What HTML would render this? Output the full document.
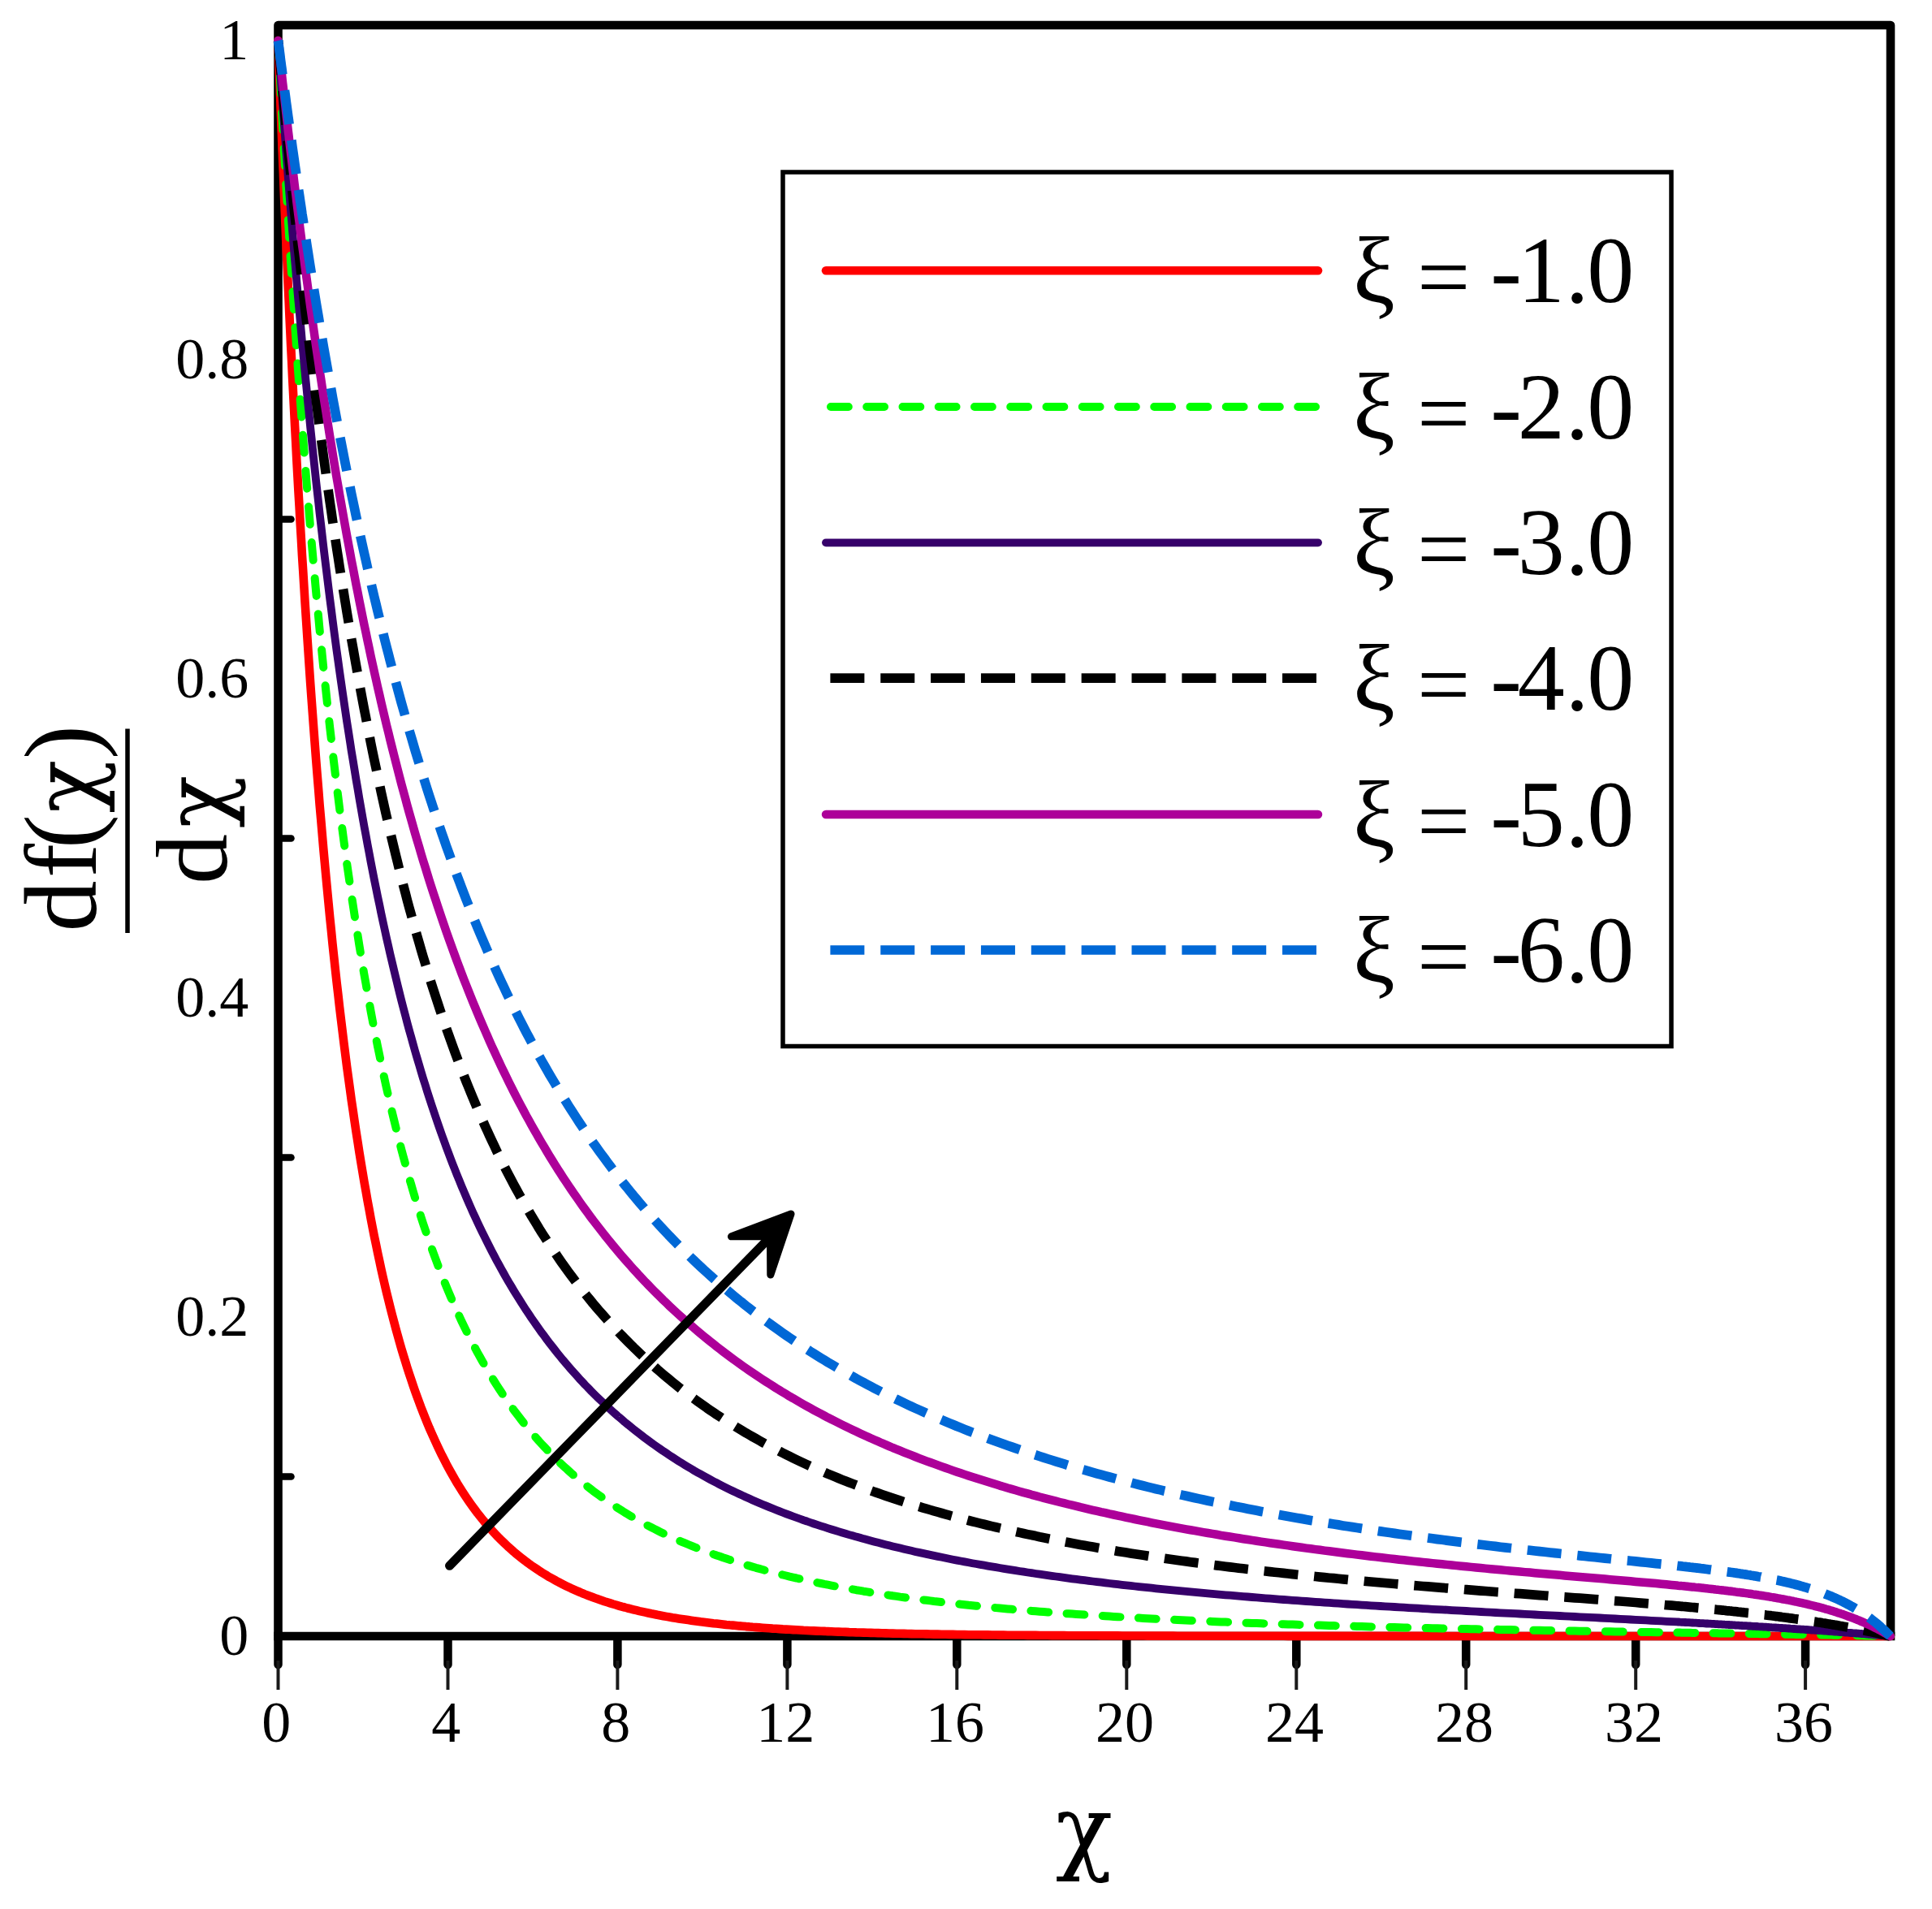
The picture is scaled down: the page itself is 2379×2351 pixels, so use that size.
<!DOCTYPE html>
<html lang="en"><head><meta charset="utf-8"><title>df/dχ profiles</title>
<style>html,body{margin:0;padding:0;background:#fff}body{width:2379px;height:2351px;overflow:hidden}svg{display:block}text{font-family:"Liberation Serif","DejaVu Serif",serif;fill:#000}text.dj,tspan.dj{font-family:"DejaVu Serif","Liberation Serif",serif}</style></head><body>
<svg width="2379" height="2351" viewBox="0 0 2379 2351">
<rect width="2379" height="2351" fill="#fff"/>
<g stroke="#000" fill="none">
<line x1="342.5" y1="2016" x2="342.5" y2="2050" stroke-width="10.5" stroke-linecap="round"/>
<line x1="342.5" y1="2045" x2="342.5" y2="2081" stroke="#1a1a1a" stroke-width="4"/>
<line x1="551.5" y1="2016" x2="551.5" y2="2050" stroke-width="10.5" stroke-linecap="round"/>
<line x1="551.5" y1="2045" x2="551.5" y2="2081" stroke="#1a1a1a" stroke-width="4"/>
<line x1="760.4" y1="2016" x2="760.4" y2="2050" stroke-width="10.5" stroke-linecap="round"/>
<line x1="760.4" y1="2045" x2="760.4" y2="2081" stroke="#1a1a1a" stroke-width="4"/>
<line x1="969.4" y1="2016" x2="969.4" y2="2050" stroke-width="10.5" stroke-linecap="round"/>
<line x1="969.4" y1="2045" x2="969.4" y2="2081" stroke="#1a1a1a" stroke-width="4"/>
<line x1="1178.3" y1="2016" x2="1178.3" y2="2050" stroke-width="10.5" stroke-linecap="round"/>
<line x1="1178.3" y1="2045" x2="1178.3" y2="2081" stroke="#1a1a1a" stroke-width="4"/>
<line x1="1387.3" y1="2016" x2="1387.3" y2="2050" stroke-width="10.5" stroke-linecap="round"/>
<line x1="1387.3" y1="2045" x2="1387.3" y2="2081" stroke="#1a1a1a" stroke-width="4"/>
<line x1="1596.3" y1="2016" x2="1596.3" y2="2050" stroke-width="10.5" stroke-linecap="round"/>
<line x1="1596.3" y1="2045" x2="1596.3" y2="2081" stroke="#1a1a1a" stroke-width="4"/>
<line x1="1805.2" y1="2016" x2="1805.2" y2="2050" stroke-width="10.5" stroke-linecap="round"/>
<line x1="1805.2" y1="2045" x2="1805.2" y2="2081" stroke="#1a1a1a" stroke-width="4"/>
<line x1="2014.2" y1="2016" x2="2014.2" y2="2050" stroke-width="10.5" stroke-linecap="round"/>
<line x1="2014.2" y1="2045" x2="2014.2" y2="2081" stroke="#1a1a1a" stroke-width="4"/>
<line x1="2223.1" y1="2016" x2="2223.1" y2="2050" stroke-width="10.5" stroke-linecap="round"/>
<line x1="2223.1" y1="2045" x2="2223.1" y2="2081" stroke="#1a1a1a" stroke-width="4"/>
<line x1="343" y1="1818.5" x2="358.5" y2="1818.5" stroke-width="8.5" stroke-linecap="round"/>
<line x1="343" y1="1425.5" x2="358.5" y2="1425.5" stroke-width="8.5" stroke-linecap="round"/>
<line x1="343" y1="1032.5" x2="358.5" y2="1032.5" stroke-width="8.5" stroke-linecap="round"/>
<line x1="343" y1="639.5" x2="358.5" y2="639.5" stroke-width="8.5" stroke-linecap="round"/>
<line x1="343" y1="246.5" x2="358.5" y2="246.5" stroke-width="8.5" stroke-linecap="round"/>
</g>
<path d="M342.5,2015 L342.5,31 L2328,31 L2328,2015" fill="none" stroke="#000" stroke-width="10.6" stroke-linejoin="round"/>
<line x1="337.2" y1="2015" x2="2333.3" y2="2015" stroke="#000" stroke-width="10.4"/>
<g fill="none" stroke-linejoin="round">
<path d="M342.5,50.0 342.6,51.4 342.7,54.6 342.8,59.1 343.0,64.8 343.3,71.6 343.6,79.3 343.9,88.0 344.3,97.5 344.7,107.9 345.1,119.0 345.5,130.8 346.0,143.2 346.5,156.3 347.1,170.1 347.6,184.3 348.2,199.1 348.9,214.4 349.5,230.2 350.2,246.4 350.9,263.0 351.6,280.0 352.3,297.4 353.1,315.1 353.9,333.1 354.7,351.3 355.6,369.8 356.4,388.6 357.3,407.6 358.2,426.7 359.2,446.0 360.1,465.5 361.1,485.1 362.1,504.8 363.1,524.6 364.2,544.5 365.2,564.4 366.3,584.4 367.4,604.4 368.6,624.4 369.7,644.4 370.9,664.4 372.0,684.4 373.3,704.3 374.5,724.2 375.7,744.0 377.0,763.7 378.3,783.3 379.6,802.9 380.9,822.3 382.2,841.6 383.6,860.8 385.0,879.9 386.4,898.8 387.8,917.6 389.2,936.2 390.7,954.7 392.2,973.0 393.6,991.1 395.2,1009.1 396.7,1026.9 398.2,1044.5 399.8,1061.9 401.4,1079.2 403.0,1096.2 404.6,1113.0 406.2,1129.7 407.9,1146.1 409.5,1162.4 411.2,1178.4 412.9,1194.2 414.6,1209.8 416.4,1225.2 418.1,1240.4 419.9,1255.4 421.7,1270.2 423.5,1284.8 425.3,1299.1 427.1,1313.3 429.0,1327.2 430.9,1340.9 432.7,1354.5 434.7,1367.8 436.6,1380.9 438.5,1393.8 440.5,1406.4 442.4,1418.9 444.4,1431.2 446.4,1443.2 448.4,1455.1 450.5,1466.8 452.5,1478.3 454.6,1489.5 456.6,1500.6 458.7,1511.5 460.8,1522.2 463.0,1532.7 465.1,1543.0 467.3,1553.1 469.4,1563.1 471.6,1572.8 473.8,1582.4 476.0,1591.8 478.3,1601.1 480.5,1610.1 482.8,1619.0 485.1,1627.7 487.4,1636.3 489.7,1644.7 492.0,1652.9 494.3,1661.0 496.7,1668.9 499.1,1676.6 501.4,1684.2 503.8,1691.7 506.3,1699.0 508.7,1706.2 511.1,1713.2 513.6,1720.1 516.1,1726.8 518.5,1733.4 521.0,1739.8 523.6,1746.2 526.1,1752.4 528.6,1758.5 531.2,1764.4 533.8,1770.2 536.4,1775.9 539.0,1781.5 541.6,1787.0 544.2,1792.3 546.9,1797.5 549.5,1802.7 552.2,1807.7 554.9,1812.6 557.6,1817.4 560.3,1822.1 563.0,1826.7 565.8,1831.2 568.5,1835.6 571.3,1839.9 574.1,1844.1 576.9,1848.2 579.7,1852.2 582.5,1856.1 585.4,1860.0 588.2,1863.8 591.1,1867.4 594.0,1871.0 596.9,1874.5 599.8,1878.0 602.7,1881.3 605.6,1884.6 608.6,1887.8 611.5,1891.0 614.5,1894.0 617.5,1897.0 620.5,1899.9 623.5,1902.8 626.5,1905.6 629.6,1908.3 632.6,1911.0 635.7,1913.6 638.8,1916.1 641.9,1918.6 645.0,1921.0 648.1,1923.4 651.3,1925.7 654.4,1928.0 657.6,1930.2 660.8,1932.3 663.9,1934.4 667.1,1936.5 670.4,1938.5 673.6,1940.4 676.8,1942.4 680.1,1944.2 683.4,1946.0 686.6,1947.8 689.9,1949.5 693.2,1951.2 696.6,1952.9 699.9,1954.5 703.2,1956.1 706.6,1957.6 710.0,1959.1 713.3,1960.5 716.7,1962.0 720.1,1963.4 723.6,1964.7 727.0,1966.0 730.4,1967.3 733.9,1968.6 737.4,1969.8 740.9,1971.0 744.4,1972.2 747.9,1973.3 751.4,1974.4 754.9,1975.5 758.5,1976.5 762.0,1977.6 765.6,1978.6 769.2,1979.5 772.8,1980.5 776.4,1981.4 780.0,1982.3 783.7,1983.2 787.3,1984.1 791.0,1984.9 794.6,1985.7 798.3,1986.5 802.0,1987.3 805.7,1988.0 809.4,1988.8 813.2,1989.5 816.9,1990.2 820.7,1990.9 824.4,1991.5 828.2,1992.2 832.0,1992.8 835.8,1993.4 839.6,1994.0 843.5,1994.6 847.3,1995.1 851.2,1995.7 855.0,1996.2 858.9,1996.7 862.8,1997.3 866.7,1997.7 870.6,1998.2 874.6,1998.7 878.5,1999.2 882.4,1999.6 886.4,2000.0 890.4,2000.4 894.4,2000.9 898.4,2001.3 902.4,2001.6 906.4,2002.0 910.4,2002.4 914.5,2002.7 918.5,2003.1 922.6,2003.4 926.7,2003.8 930.8,2004.1 934.9,2004.4 939.0,2004.7 943.1,2005.0 947.3,2005.3 951.4,2005.6 955.6,2005.8 959.8,2006.1 963.9,2006.4 968.1,2006.6 972.3,2006.8 976.6,2007.1 980.8,2007.3 985.0,2007.5 989.3,2007.8 993.6,2008.0 997.8,2008.2 1002.1,2008.4 1006.4,2008.6 1010.8,2008.8 1015.1,2008.9 1019.4,2009.1 1023.8,2009.3 1028.1,2009.5 1032.5,2009.6 1036.9,2009.8 1041.3,2009.9 1045.7,2010.1 1050.1,2010.2 1054.5,2010.4 1059.0,2010.5 1063.4,2010.6 1067.9,2010.8 1072.3,2010.9 1076.8,2011.0 1081.3,2011.1 1085.8,2011.3 1090.4,2011.4 1094.9,2011.5 1099.4,2011.6 1104.0,2011.7 1108.5,2011.8 1113.1,2011.9 1117.7,2012.0 1122.3,2012.1 1126.9,2012.2 1131.5,2012.2 1136.2,2012.3 1140.8,2012.4 1145.5,2012.5 1150.1,2012.6 1154.8,2012.6 1159.5,2012.7 1164.2,2012.8 1168.9,2012.9 1173.6,2012.9 1178.3,2013.0 1183.1,2013.0 1187.8,2013.1 1192.6,2013.2 1197.4,2013.2 1202.2,2013.3 1207.0,2013.3 1211.8,2013.4 1216.6,2013.4 1221.4,2013.5 1226.3,2013.5 1231.1,2013.6 1236.0,2013.6 1240.8,2013.7 1245.7,2013.7 1250.6,2013.7 1255.5,2013.8 1260.4,2013.8 1265.4,2013.9 1270.3,2013.9 1275.3,2013.9 1280.2,2014.0 1285.2,2014.0 1290.2,2014.0 1295.2,2014.1 1300.2,2014.1 1305.2,2014.1 1310.2,2014.1 1315.3,2014.2 1320.3,2014.2 1325.4,2014.2 1330.4,2014.3 1335.5,2014.3 1340.6,2014.3 1345.7,2014.3 1350.8,2014.3 1355.9,2014.4 1361.1,2014.4 1366.2,2014.4 1371.4,2014.4 1376.5,2014.4 1381.7,2014.5 1386.9,2014.5 1392.1,2014.5 1397.3,2014.5 1402.5,2014.5 1407.7,2014.5 1413.0,2014.6 1418.2,2014.6 1423.5,2014.6 1428.8,2014.6 1434.0,2014.6 1439.3,2014.6 1444.6,2014.6 1449.9,2014.7 1455.3,2014.7 1460.6,2014.7 1465.9,2014.7 1471.3,2014.7 1476.7,2014.7 1482.0,2014.7 1487.4,2014.7 1492.8,2014.7 1498.2,2014.7 1503.6,2014.8 1509.1,2014.8 1514.5,2014.8 1520.0,2014.8 1525.4,2014.8 1530.9,2014.8 1536.4,2014.8 1541.9,2014.8 1547.4,2014.8 1552.9,2014.8 1558.4,2014.8 1563.9,2014.8 1569.5,2014.8 1575.0,2014.8 1580.6,2014.8 1586.2,2014.9 1591.7,2014.9 1597.3,2014.9 1602.9,2014.9 1608.6,2014.9 1614.2,2014.9 1619.8,2014.9 1625.5,2014.9 1631.1,2014.9 1636.8,2014.9 1642.5,2014.9 1648.1,2014.9 1653.8,2014.9 1659.5,2014.9 1665.3,2014.9 1671.0,2014.9 1676.7,2014.9 1682.5,2014.9 1688.2,2014.9 1694.0,2014.9 1699.8,2014.9 1705.6,2014.9 1711.4,2014.9 1717.2,2014.9 1723.0,2014.9 1728.8,2014.9 1734.7,2014.9 1740.5,2014.9 1746.4,2014.9 1752.2,2014.9 1758.1,2014.9 1764.0,2015.0 1769.9,2015.0 1775.8,2015.0 1781.7,2015.0 1787.7,2015.0 1793.6,2015.0 1799.6,2015.0 1805.5,2015.0 1811.5,2015.0 1817.5,2015.0 1823.4,2015.0 1829.4,2015.0 1835.5,2015.0 1841.5,2015.0 1847.5,2015.0 1853.5,2015.0 1859.6,2015.0 1865.7,2015.0 1871.7,2015.0 1877.8,2015.0 1883.9,2015.0 1890.0,2015.0 1896.1,2015.0 1902.2,2015.0 1908.3,2015.0 1914.5,2015.0 1920.6,2015.0 1926.8,2015.0 1933.0,2015.0 1939.1,2015.0 1945.3,2015.0 1951.5,2015.0 1957.7,2015.0 1963.9,2015.0 1970.2,2015.0 1976.4,2015.0 1982.7,2015.0 1988.9,2015.0 1995.2,2015.0 2001.5,2015.0 2007.7,2015.0 2014.0,2015.0 2020.3,2015.0 2026.7,2015.0 2033.0,2015.0 2039.3,2015.0 2045.7,2015.0 2052.0,2015.0 2058.4,2015.0 2064.8,2015.0 2066.4,2015.0 2068.6,2015.0 2070.8,2015.0 2071.1,2015.0 2073.0,2015.0 2075.2,2015.0 2077.4,2015.0 2077.5,2015.0 2079.6,2015.0 2081.8,2015.0 2083.9,2015.0 2084.0,2015.0 2086.2,2015.0 2088.4,2015.0 2090.3,2015.0 2090.6,2015.0 2092.8,2015.0 2095.0,2015.0 2096.8,2015.0 2097.1,2015.0 2099.3,2015.0 2101.5,2015.0 2103.2,2015.0 2103.7,2015.0 2105.9,2015.0 2108.1,2015.0 2109.6,2015.0 2110.3,2015.0 2112.5,2015.0 2114.7,2015.0 2116.1,2015.0 2116.9,2015.0 2119.1,2015.0 2121.3,2015.0 2122.6,2015.0 2123.5,2015.0 2125.7,2015.0 2127.9,2015.0 2129.0,2015.0 2130.1,2015.0 2132.3,2015.0 2134.5,2015.0 2135.5,2015.0 2136.7,2015.0 2138.9,2015.0 2141.0,2015.0 2142.0,2015.0 2143.2,2015.0 2145.4,2015.0 2147.6,2015.0 2148.5,2015.0 2149.8,2015.0 2152.0,2015.0 2154.2,2015.0 2155.0,2015.0 2156.4,2015.0 2158.6,2015.0 2160.8,2015.0 2161.5,2015.0 2163.0,2015.0 2165.2,2015.0 2167.4,2015.0 2168.1,2015.0 2169.6,2015.0 2171.8,2015.0 2174.0,2015.0 2174.6,2015.0 2176.2,2015.0 2178.4,2015.0 2180.6,2015.0 2181.1,2015.0 2182.8,2015.0 2184.9,2015.0 2187.1,2015.0 2187.7,2015.0 2189.3,2015.0 2191.5,2015.0 2193.7,2015.0 2194.3,2015.0 2195.9,2015.0 2198.1,2015.0 2200.3,2015.0 2200.8,2015.0 2202.5,2015.0 2204.7,2015.0 2206.9,2015.0 2207.4,2015.0 2209.1,2015.0 2211.3,2015.0 2213.5,2015.0 2214.0,2015.0 2215.7,2015.0 2217.9,2015.0 2220.1,2015.0 2220.6,2015.0 2222.3,2015.0 2224.5,2015.0 2226.7,2015.0 2227.2,2015.0 2228.8,2015.0 2231.0,2015.0 2233.2,2015.0 2233.9,2015.0 2235.4,2015.0 2237.6,2015.0 2239.8,2015.0 2240.5,2015.0 2242.0,2015.0 2244.2,2015.0 2246.4,2015.0 2247.1,2015.0 2248.6,2015.0 2250.8,2015.0 2253.0,2015.0 2253.8,2015.0 2255.2,2015.0 2257.4,2015.0 2259.6,2015.0 2260.5,2015.0 2261.8,2015.0 2264.0,2015.0 2266.2,2015.0 2267.1,2015.0 2268.4,2015.0 2270.6,2015.0 2272.7,2015.0 2273.8,2015.0 2274.9,2015.0 2277.1,2015.0 2279.3,2015.0 2280.5,2015.0 2281.5,2015.0 2283.7,2015.0 2285.9,2015.0 2287.2,2015.0 2288.1,2015.0 2290.3,2015.0 2292.5,2015.0 2293.9,2015.0 2294.7,2015.0 2296.9,2015.0 2299.1,2015.0 2300.6,2015.0 2301.3,2015.0 2303.5,2015.0 2305.7,2015.0 2307.4,2015.0 2307.9,2015.0 2310.1,2015.0 2312.3,2015.0 2314.1,2015.0 2314.5,2015.0 2316.6,2015.0 2318.8,2015.0 2320.9,2015.0 2321.0,2015.0 2323.2,2015.0 2325.4,2015.0 2327.6,2015.0" stroke="#ff0000" stroke-width="10.6" stroke-linecap="round"/>
<path d="M342.5,50.0 342.6,51.0 342.7,53.2 342.8,56.4 343.0,60.5 343.3,65.3 343.6,70.8 343.9,76.9 344.3,83.7 344.7,91.1 345.1,99.0 345.5,107.5 346.0,116.4 346.5,125.8 347.1,135.7 347.6,146.0 348.2,156.7 348.9,167.8 349.5,179.3 350.2,191.1 350.9,203.3 351.6,215.7 352.3,228.5 353.1,241.5 353.9,254.9 354.7,268.4 355.6,282.2 356.4,296.2 357.3,310.5 358.2,324.9 359.2,339.5 360.1,354.2 361.1,369.1 362.1,384.2 363.1,399.4 364.2,414.7 365.2,430.1 366.3,445.6 367.4,461.1 368.6,476.8 369.7,492.5 370.9,508.2 372.0,524.0 373.3,539.9 374.5,555.7 375.7,571.6 377.0,587.5 378.3,603.3 379.6,619.2 380.9,635.0 382.2,650.9 383.6,666.7 385.0,682.4 386.4,698.1 387.8,713.8 389.2,729.4 390.7,744.9 392.2,760.4 393.6,775.8 395.2,791.1 396.7,806.4 398.2,821.5 399.8,836.6 401.4,851.6 403.0,866.5 404.6,881.3 406.2,895.9 407.9,910.5 409.5,925.0 411.2,939.3 412.9,953.6 414.6,967.7 416.4,981.7 418.1,995.5 419.9,1009.3 421.7,1022.9 423.5,1036.4 425.3,1049.8 427.1,1063.0 429.0,1076.1 430.9,1089.1 432.7,1101.9 434.7,1114.7 436.6,1127.2 438.5,1139.7 440.5,1152.0 442.4,1164.1 444.4,1176.2 446.4,1188.1 448.4,1199.8 450.5,1211.4 452.5,1222.9 454.6,1234.3 456.6,1245.5 458.7,1256.6 460.8,1267.5 463.0,1278.3 465.1,1289.0 467.3,1299.5 469.4,1309.9 471.6,1320.2 473.8,1330.3 476.0,1340.3 478.3,1350.2 480.5,1359.9 482.8,1369.6 485.1,1379.0 487.4,1388.4 489.7,1397.6 492.0,1406.7 494.3,1415.7 496.7,1424.6 499.1,1433.3 501.4,1442.0 503.8,1450.5 506.3,1458.8 508.7,1467.1 511.1,1475.2 513.6,1483.3 516.1,1491.2 518.5,1499.0 521.0,1506.7 523.6,1514.3 526.1,1521.7 528.6,1529.1 531.2,1536.3 533.8,1543.5 536.4,1550.5 539.0,1557.5 541.6,1564.3 544.2,1571.0 546.9,1577.7 549.5,1584.2 552.2,1590.7 554.9,1597.0 557.6,1603.3 560.3,1609.4 563.0,1615.5 565.8,1621.5 568.5,1627.4 571.3,1633.2 574.1,1638.9 576.9,1644.5 579.7,1650.0 582.5,1655.5 585.4,1660.8 588.2,1666.1 591.1,1671.3 594.0,1676.5 596.9,1681.5 599.8,1686.5 602.7,1691.4 605.6,1696.2 608.6,1701.0 611.5,1705.6 614.5,1710.2 617.5,1714.8 620.5,1719.2 623.5,1723.6 626.5,1728.0 629.6,1732.2 632.6,1736.4 635.7,1740.5 638.8,1744.6 641.9,1748.6 645.0,1752.6 648.1,1756.4 651.3,1760.3 654.4,1764.0 657.6,1767.7 660.8,1771.4 663.9,1775.0 667.1,1778.5 670.4,1782.0 673.6,1785.4 676.8,1788.8 680.1,1792.1 683.4,1795.4 686.6,1798.6 689.9,1801.8 693.2,1804.9 696.6,1807.9 699.9,1811.0 703.2,1814.0 706.6,1816.9 710.0,1819.8 713.3,1822.6 716.7,1825.4 720.1,1828.2 723.6,1830.9 727.0,1833.5 730.4,1836.2 733.9,1838.8 737.4,1841.3 740.9,1843.8 744.4,1846.3 747.9,1848.7 751.4,1851.1 754.9,1853.5 758.5,1855.8 762.0,1858.1 765.6,1860.3 769.2,1862.6 772.8,1864.7 776.4,1866.9 780.0,1869.0 783.7,1871.1 787.3,1873.1 791.0,1875.2 794.6,1877.2 798.3,1879.1 802.0,1881.0 805.7,1882.9 809.4,1884.8 813.2,1886.7 816.9,1888.5 820.7,1890.3 824.4,1892.0 828.2,1893.8 832.0,1895.5 835.8,1897.2 839.6,1898.8 843.5,1900.4 847.3,1902.0 851.2,1903.6 855.0,1905.2 858.9,1906.7 862.8,1908.2 866.7,1909.7 870.6,1911.2 874.6,1912.6 878.5,1914.1 882.4,1915.5 886.4,1916.8 890.4,1918.2 894.4,1919.5 898.4,1920.9 902.4,1922.2 906.4,1923.5 910.4,1924.7 914.5,1926.0 918.5,1927.2 922.6,1928.4 926.7,1929.6 930.8,1930.8 934.9,1931.9 939.0,1933.0 943.1,1934.2 947.3,1935.3 951.4,1936.4 955.6,1937.4 959.8,1938.5 963.9,1939.5 968.1,1940.5 972.3,1941.6 976.6,1942.6 980.8,1943.5 985.0,1944.5 989.3,1945.5 993.6,1946.4 997.8,1947.3 1002.1,1948.2 1006.4,1949.1 1010.8,1950.0 1015.1,1950.9 1019.4,1951.7 1023.8,1952.6 1028.1,1953.4 1032.5,1954.3 1036.9,1955.1 1041.3,1955.9 1045.7,1956.6 1050.1,1957.4 1054.5,1958.2 1059.0,1958.9 1063.4,1959.7 1067.9,1960.4 1072.3,1961.1 1076.8,1961.9 1081.3,1962.6 1085.8,1963.3 1090.4,1963.9 1094.9,1964.6 1099.4,1965.3 1104.0,1965.9 1108.5,1966.6 1113.1,1967.2 1117.7,1967.8 1122.3,1968.5 1126.9,1969.1 1131.5,1969.7 1136.2,1970.3 1140.8,1970.8 1145.5,1971.4 1150.1,1972.0 1154.8,1972.5 1159.5,1973.1 1164.2,1973.6 1168.9,1974.2 1173.6,1974.7 1178.3,1975.2 1183.1,1975.7 1187.8,1976.2 1192.6,1976.8 1197.4,1977.2 1202.2,1977.7 1207.0,1978.2 1211.8,1978.7 1216.6,1979.2 1221.4,1979.6 1226.3,1980.1 1231.1,1980.5 1236.0,1981.0 1240.8,1981.4 1245.7,1981.8 1250.6,1982.2 1255.5,1982.7 1260.4,1983.1 1265.4,1983.5 1270.3,1983.9 1275.3,1984.3 1280.2,1984.7 1285.2,1985.1 1290.2,1985.4 1295.2,1985.8 1300.2,1986.2 1305.2,1986.6 1310.2,1986.9 1315.3,1987.3 1320.3,1987.6 1325.4,1988.0 1330.4,1988.3 1335.5,1988.6 1340.6,1989.0 1345.7,1989.3 1350.8,1989.6 1355.9,1989.9 1361.1,1990.3 1366.2,1990.6 1371.4,1990.9 1376.5,1991.2 1381.7,1991.5 1386.9,1991.8 1392.1,1992.1 1397.3,1992.4 1402.5,1992.6 1407.7,1992.9 1413.0,1993.2 1418.2,1993.5 1423.5,1993.7 1428.8,1994.0 1434.0,1994.3 1439.3,1994.5 1444.6,1994.8 1449.9,1995.0 1455.3,1995.3 1460.6,1995.5 1465.9,1995.8 1471.3,1996.0 1476.7,1996.2 1482.0,1996.5 1487.4,1996.7 1492.8,1996.9 1498.2,1997.2 1503.6,1997.4 1509.1,1997.6 1514.5,1997.8 1520.0,1998.0 1525.4,1998.3 1530.9,1998.5 1536.4,1998.7 1541.9,1998.9 1547.4,1999.1 1552.9,1999.3 1558.4,1999.5 1563.9,1999.7 1569.5,1999.9 1575.0,2000.0 1580.6,2000.2 1586.2,2000.4 1591.7,2000.6 1597.3,2000.8 1602.9,2001.0 1608.6,2001.1 1614.2,2001.3 1619.8,2001.5 1625.5,2001.6 1631.1,2001.8 1636.8,2002.0 1642.5,2002.1 1648.1,2002.3 1653.8,2002.5 1659.5,2002.6 1665.3,2002.8 1671.0,2002.9 1676.7,2003.1 1682.5,2003.2 1688.2,2003.4 1694.0,2003.5 1699.8,2003.7 1705.6,2003.8 1711.4,2004.0 1717.2,2004.1 1723.0,2004.3 1728.8,2004.4 1734.7,2004.5 1740.5,2004.7 1746.4,2004.8 1752.2,2004.9 1758.1,2005.1 1764.0,2005.2 1769.9,2005.3 1775.8,2005.5 1781.7,2005.6 1787.7,2005.7 1793.6,2005.8 1799.6,2006.0 1805.5,2006.1 1811.5,2006.2 1817.5,2006.3 1823.4,2006.5 1829.4,2006.6 1835.5,2006.7 1841.5,2006.8 1847.5,2006.9 1853.5,2007.0 1859.6,2007.1 1865.7,2007.3 1871.7,2007.4 1877.8,2007.5 1883.9,2007.6 1890.0,2007.7 1896.1,2007.8 1902.2,2007.9 1908.3,2008.0 1914.5,2008.1 1920.6,2008.2 1926.8,2008.3 1933.0,2008.5 1939.1,2008.6 1945.3,2008.7 1951.5,2008.8 1957.7,2008.9 1963.9,2009.0 1970.2,2009.1 1976.4,2009.2 1982.7,2009.3 1988.9,2009.4 1995.2,2009.5 2001.5,2009.6 2007.7,2009.7 2014.0,2009.8 2020.3,2009.9 2026.7,2010.0 2033.0,2010.1 2039.3,2010.2 2045.7,2010.3 2052.0,2010.4 2058.4,2010.5 2064.8,2010.6 2066.4,2010.6 2068.6,2010.6 2070.8,2010.7 2071.1,2010.7 2073.0,2010.7 2075.2,2010.7 2077.4,2010.8 2077.5,2010.8 2079.6,2010.8 2081.8,2010.8 2083.9,2010.9 2084.0,2010.9 2086.2,2010.9 2088.4,2010.9 2090.3,2011.0 2090.6,2011.0 2092.8,2011.0 2095.0,2011.0 2096.8,2011.1 2097.1,2011.1 2099.3,2011.1 2101.5,2011.1 2103.2,2011.2 2103.7,2011.2 2105.9,2011.2 2108.1,2011.2 2109.6,2011.3 2110.3,2011.3 2112.5,2011.3 2114.7,2011.3 2116.1,2011.4 2116.9,2011.4 2119.1,2011.4 2121.3,2011.4 2122.6,2011.5 2123.5,2011.5 2125.7,2011.5 2127.9,2011.5 2129.0,2011.6 2130.1,2011.6 2132.3,2011.6 2134.5,2011.7 2135.5,2011.7 2136.7,2011.7 2138.9,2011.7 2141.0,2011.8 2142.0,2011.8 2143.2,2011.8 2145.4,2011.8 2147.6,2011.9 2148.5,2011.9 2149.8,2011.9 2152.0,2011.9 2154.2,2012.0 2155.0,2012.0 2156.4,2012.0 2158.6,2012.0 2160.8,2012.1 2161.5,2012.1 2163.0,2012.1 2165.2,2012.1 2167.4,2012.2 2168.1,2012.2 2169.6,2012.2 2171.8,2012.2 2174.0,2012.3 2174.6,2012.3 2176.2,2012.3 2178.4,2012.3 2180.6,2012.4 2181.1,2012.4 2182.8,2012.4 2184.9,2012.5 2187.1,2012.5 2187.7,2012.5 2189.3,2012.5 2191.5,2012.6 2193.7,2012.6 2194.3,2012.6 2195.9,2012.6 2198.1,2012.7 2200.3,2012.7 2200.8,2012.7 2202.5,2012.7 2204.7,2012.8 2206.9,2012.8 2207.4,2012.8 2209.1,2012.8 2211.3,2012.9 2213.5,2012.9 2214.0,2012.9 2215.7,2013.0 2217.9,2013.0 2220.1,2013.0 2220.6,2013.0 2222.3,2013.1 2224.5,2013.1 2226.7,2013.1 2227.2,2013.2 2228.8,2013.2 2231.0,2013.2 2233.2,2013.3 2233.9,2013.3 2235.4,2013.3 2237.6,2013.3 2239.8,2013.4 2240.5,2013.4 2242.0,2013.4 2244.2,2013.4 2246.4,2013.5 2247.1,2013.5 2248.6,2013.5 2250.8,2013.6 2253.0,2013.6 2253.8,2013.6 2255.2,2013.6 2257.4,2013.7 2259.6,2013.7 2260.5,2013.7 2261.8,2013.8 2264.0,2013.8 2266.2,2013.8 2267.1,2013.9 2268.4,2013.9 2270.6,2013.9 2272.7,2014.0 2273.8,2014.0 2274.9,2014.0 2277.1,2014.0 2279.3,2014.1 2280.5,2014.1 2281.5,2014.1 2283.7,2014.2 2285.9,2014.2 2287.2,2014.2 2288.1,2014.2 2290.3,2014.3 2292.5,2014.3 2293.9,2014.3 2294.7,2014.4 2296.9,2014.4 2299.1,2014.4 2300.6,2014.5 2301.3,2014.5 2303.5,2014.5 2305.7,2014.6 2307.4,2014.6 2307.9,2014.6 2310.1,2014.7 2312.3,2014.7 2314.1,2014.7 2314.5,2014.7 2316.6,2014.8 2318.8,2014.8 2320.9,2014.9 2321.0,2014.9 2323.2,2014.9 2325.4,2015.0 2327.6,2015.0" stroke="#00ff00" stroke-width="10" stroke-dasharray="21.8 22.45" stroke-linecap="round"/>
<path d="M342.5,50.0 342.6,50.8 342.7,52.4 342.8,54.8 343.0,57.9 343.3,61.5 343.6,65.7 343.9,70.3 344.3,75.5 344.7,81.0 345.1,87.0 345.5,93.4 346.0,100.2 346.5,107.4 347.1,114.9 347.6,122.8 348.2,131.0 348.9,139.5 349.5,148.3 350.2,157.4 350.9,166.7 351.6,176.4 352.3,186.3 353.1,196.4 353.9,206.7 354.7,217.3 355.6,228.1 356.4,239.0 357.3,250.2 358.2,261.6 359.2,273.1 360.1,284.7 361.1,296.6 362.1,308.5 363.1,320.6 364.2,332.9 365.2,345.2 366.3,357.7 367.4,370.2 368.6,382.9 369.7,395.6 370.9,408.5 372.0,421.3 373.3,434.3 374.5,447.3 375.7,460.4 377.0,473.5 378.3,486.7 379.6,499.9 380.9,513.1 382.2,526.4 383.6,539.6 385.0,552.9 386.4,566.2 387.8,579.5 389.2,592.7 390.7,606.0 392.2,619.3 393.6,632.5 395.2,645.8 396.7,659.0 398.2,672.1 399.8,685.3 401.4,698.4 403.0,711.4 404.6,724.5 406.2,737.4 407.9,750.4 409.5,763.2 411.2,776.1 412.9,788.8 414.6,801.5 416.4,814.2 418.1,826.7 419.9,839.2 421.7,851.7 423.5,864.0 425.3,876.3 427.1,888.5 429.0,900.6 430.9,912.7 432.7,924.7 434.7,936.6 436.6,948.4 438.5,960.1 440.5,971.7 442.4,983.3 444.4,994.7 446.4,1006.1 448.4,1017.3 450.5,1028.5 452.5,1039.6 454.6,1050.6 456.6,1061.5 458.7,1072.3 460.8,1083.0 463.0,1093.7 465.1,1104.2 467.3,1114.6 469.4,1125.0 471.6,1135.2 473.8,1145.3 476.0,1155.4 478.3,1165.3 480.5,1175.2 482.8,1184.9 485.1,1194.6 487.4,1204.1 489.7,1213.6 492.0,1223.0 494.3,1232.2 496.7,1241.4 499.1,1250.5 501.4,1259.5 503.8,1268.4 506.3,1277.2 508.7,1285.9 511.1,1294.5 513.6,1303.0 516.1,1311.4 518.5,1319.7 521.0,1328.0 523.6,1336.1 526.1,1344.2 528.6,1352.1 531.2,1360.0 533.8,1367.8 536.4,1375.5 539.0,1383.1 541.6,1390.6 544.2,1398.0 546.9,1405.4 549.5,1412.6 552.2,1419.8 554.9,1426.9 557.6,1433.9 560.3,1440.8 563.0,1447.7 565.8,1454.4 568.5,1461.1 571.3,1467.7 574.1,1474.2 576.9,1480.7 579.7,1487.1 582.5,1493.4 585.4,1499.6 588.2,1505.7 591.1,1511.8 594.0,1517.8 596.9,1523.7 599.8,1529.5 602.7,1535.3 605.6,1541.0 608.6,1546.6 611.5,1552.2 614.5,1557.7 617.5,1563.1 620.5,1568.5 623.5,1573.8 626.5,1579.0 629.6,1584.1 632.6,1589.2 635.7,1594.3 638.8,1599.2 641.9,1604.1 645.0,1609.0 648.1,1613.8 651.3,1618.5 654.4,1623.2 657.6,1627.8 660.8,1632.3 663.9,1636.8 667.1,1641.3 670.4,1645.6 673.6,1650.0 676.8,1654.2 680.1,1658.4 683.4,1662.6 686.6,1666.7 689.9,1670.8 693.2,1674.8 696.6,1678.7 699.9,1682.6 703.2,1686.5 706.6,1690.3 710.0,1694.1 713.3,1697.8 716.7,1701.4 720.1,1705.1 723.6,1708.6 727.0,1712.2 730.4,1715.6 733.9,1719.1 737.4,1722.5 740.9,1725.8 744.4,1729.1 747.9,1732.4 751.4,1735.6 754.9,1738.8 758.5,1742.0 762.0,1745.1 765.6,1748.1 769.2,1751.2 772.8,1754.1 776.4,1757.1 780.0,1760.0 783.7,1762.9 787.3,1765.7 791.0,1768.5 794.6,1771.3 798.3,1774.0 802.0,1776.7 805.7,1779.4 809.4,1782.0 813.2,1784.6 816.9,1787.2 820.7,1789.7 824.4,1792.2 828.2,1794.7 832.0,1797.1 835.8,1799.6 839.6,1801.9 843.5,1804.3 847.3,1806.6 851.2,1808.9 855.0,1811.2 858.9,1813.4 862.8,1815.6 866.7,1817.8 870.6,1819.9 874.6,1822.1 878.5,1824.2 882.4,1826.2 886.4,1828.3 890.4,1830.3 894.4,1832.3 898.4,1834.3 902.4,1836.2 906.4,1838.1 910.4,1840.0 914.5,1841.9 918.5,1843.8 922.6,1845.6 926.7,1847.4 930.8,1849.2 934.9,1851.0 939.0,1852.7 943.1,1854.4 947.3,1856.1 951.4,1857.8 955.6,1859.5 959.8,1861.1 963.9,1862.7 968.1,1864.3 972.3,1865.9 976.6,1867.5 980.8,1869.0 985.0,1870.5 989.3,1872.1 993.6,1873.5 997.8,1875.0 1002.1,1876.5 1006.4,1877.9 1010.8,1879.3 1015.1,1880.7 1019.4,1882.1 1023.8,1883.5 1028.1,1884.8 1032.5,1886.2 1036.9,1887.5 1041.3,1888.8 1045.7,1890.1 1050.1,1891.3 1054.5,1892.6 1059.0,1893.8 1063.4,1895.1 1067.9,1896.3 1072.3,1897.5 1076.8,1898.7 1081.3,1899.8 1085.8,1901.0 1090.4,1902.2 1094.9,1903.3 1099.4,1904.4 1104.0,1905.5 1108.5,1906.6 1113.1,1907.7 1117.7,1908.8 1122.3,1909.8 1126.9,1910.9 1131.5,1911.9 1136.2,1912.9 1140.8,1913.9 1145.5,1914.9 1150.1,1915.9 1154.8,1916.9 1159.5,1917.8 1164.2,1918.8 1168.9,1919.7 1173.6,1920.7 1178.3,1921.6 1183.1,1922.5 1187.8,1923.4 1192.6,1924.3 1197.4,1925.2 1202.2,1926.0 1207.0,1926.9 1211.8,1927.7 1216.6,1928.6 1221.4,1929.4 1226.3,1930.2 1231.1,1931.0 1236.0,1931.8 1240.8,1932.6 1245.7,1933.4 1250.6,1934.2 1255.5,1935.0 1260.4,1935.7 1265.4,1936.5 1270.3,1937.2 1275.3,1938.0 1280.2,1938.7 1285.2,1939.4 1290.2,1940.1 1295.2,1940.8 1300.2,1941.5 1305.2,1942.2 1310.2,1942.9 1315.3,1943.6 1320.3,1944.3 1325.4,1944.9 1330.4,1945.6 1335.5,1946.2 1340.6,1946.9 1345.7,1947.5 1350.8,1948.1 1355.9,1948.7 1361.1,1949.4 1366.2,1950.0 1371.4,1950.6 1376.5,1951.2 1381.7,1951.8 1386.9,1952.3 1392.1,1952.9 1397.3,1953.5 1402.5,1954.1 1407.7,1954.6 1413.0,1955.2 1418.2,1955.7 1423.5,1956.3 1428.8,1956.8 1434.0,1957.3 1439.3,1957.9 1444.6,1958.4 1449.9,1958.9 1455.3,1959.4 1460.6,1959.9 1465.9,1960.4 1471.3,1960.9 1476.7,1961.4 1482.0,1961.9 1487.4,1962.4 1492.8,1962.9 1498.2,1963.3 1503.6,1963.8 1509.1,1964.3 1514.5,1964.7 1520.0,1965.2 1525.4,1965.7 1530.9,1966.1 1536.4,1966.5 1541.9,1967.0 1547.4,1967.4 1552.9,1967.9 1558.4,1968.3 1563.9,1968.7 1569.5,1969.1 1575.0,1969.6 1580.6,1970.0 1586.2,1970.4 1591.7,1970.8 1597.3,1971.2 1602.9,1971.6 1608.6,1972.0 1614.2,1972.4 1619.8,1972.8 1625.5,1973.2 1631.1,1973.6 1636.8,1973.9 1642.5,1974.3 1648.1,1974.7 1653.8,1975.1 1659.5,1975.5 1665.3,1975.8 1671.0,1976.2 1676.7,1976.6 1682.5,1976.9 1688.2,1977.3 1694.0,1977.6 1699.8,1978.0 1705.6,1978.3 1711.4,1978.7 1717.2,1979.0 1723.0,1979.4 1728.8,1979.7 1734.7,1980.1 1740.5,1980.4 1746.4,1980.7 1752.2,1981.1 1758.1,1981.4 1764.0,1981.8 1769.9,1982.1 1775.8,1982.4 1781.7,1982.7 1787.7,1983.1 1793.6,1983.4 1799.6,1983.7 1805.5,1984.0 1811.5,1984.4 1817.5,1984.7 1823.4,1985.0 1829.4,1985.3 1835.5,1985.6 1841.5,1986.0 1847.5,1986.3 1853.5,1986.6 1859.6,1986.9 1865.7,1987.2 1871.7,1987.5 1877.8,1987.8 1883.9,1988.2 1890.0,1988.5 1896.1,1988.8 1902.2,1989.1 1908.3,1989.4 1914.5,1989.7 1920.6,1990.0 1926.8,1990.3 1933.0,1990.7 1939.1,1991.0 1945.3,1991.3 1951.5,1991.6 1957.7,1991.9 1963.9,1992.2 1970.2,1992.5 1976.4,1992.9 1982.7,1993.2 1988.9,1993.5 1995.2,1993.8 2001.5,1994.1 2007.7,1994.5 2014.0,1994.8 2020.3,1995.1 2026.7,1995.4 2033.0,1995.8 2039.3,1996.1 2045.7,1996.4 2052.0,1996.8 2058.4,1997.1 2064.8,1997.4 2066.4,1997.5 2068.6,1997.7 2070.8,1997.8 2071.1,1997.8 2073.0,1997.9 2075.2,1998.0 2077.4,1998.1 2077.5,1998.1 2079.6,1998.2 2081.8,1998.4 2083.9,1998.5 2084.0,1998.5 2086.2,1998.6 2088.4,1998.7 2090.3,1998.8 2090.6,1998.8 2092.8,1999.0 2095.0,1999.1 2096.8,1999.2 2097.1,1999.2 2099.3,1999.3 2101.5,1999.5 2103.2,1999.5 2103.7,1999.6 2105.9,1999.7 2108.1,1999.8 2109.6,1999.9 2110.3,1999.9 2112.5,2000.1 2114.7,2000.2 2116.1,2000.3 2116.9,2000.3 2119.1,2000.4 2121.3,2000.6 2122.6,2000.6 2123.5,2000.7 2125.7,2000.8 2127.9,2000.9 2129.0,2001.0 2130.1,2001.1 2132.3,2001.2 2134.5,2001.3 2135.5,2001.4 2136.7,2001.5 2138.9,2001.6 2141.0,2001.7 2142.0,2001.8 2143.2,2001.8 2145.4,2002.0 2147.6,2002.1 2148.5,2002.2 2149.8,2002.2 2152.0,2002.4 2154.2,2002.5 2155.0,2002.5 2156.4,2002.6 2158.6,2002.8 2160.8,2002.9 2161.5,2002.9 2163.0,2003.0 2165.2,2003.2 2167.4,2003.3 2168.1,2003.3 2169.6,2003.4 2171.8,2003.6 2174.0,2003.7 2174.6,2003.7 2176.2,2003.8 2178.4,2004.0 2180.6,2004.1 2181.1,2004.2 2182.8,2004.3 2184.9,2004.4 2187.1,2004.5 2187.7,2004.6 2189.3,2004.7 2191.5,2004.8 2193.7,2005.0 2194.3,2005.0 2195.9,2005.1 2198.1,2005.2 2200.3,2005.4 2200.8,2005.4 2202.5,2005.5 2204.7,2005.7 2206.9,2005.8 2207.4,2005.9 2209.1,2006.0 2211.3,2006.1 2213.5,2006.3 2214.0,2006.3 2215.7,2006.4 2217.9,2006.6 2220.1,2006.7 2220.6,2006.7 2222.3,2006.8 2224.5,2007.0 2226.7,2007.2 2227.2,2007.2 2228.8,2007.3 2231.0,2007.5 2233.2,2007.6 2233.9,2007.7 2235.4,2007.8 2237.6,2007.9 2239.8,2008.1 2240.5,2008.1 2242.0,2008.2 2244.2,2008.4 2246.4,2008.5 2247.1,2008.6 2248.6,2008.7 2250.8,2008.9 2253.0,2009.0 2253.8,2009.1 2255.2,2009.2 2257.4,2009.3 2259.6,2009.5 2260.5,2009.6 2261.8,2009.7 2264.0,2009.8 2266.2,2010.0 2267.1,2010.1 2268.4,2010.2 2270.6,2010.3 2272.7,2010.5 2273.8,2010.6 2274.9,2010.7 2277.1,2010.8 2279.3,2011.0 2280.5,2011.1 2281.5,2011.2 2283.7,2011.3 2285.9,2011.5 2287.2,2011.6 2288.1,2011.7 2290.3,2011.9 2292.5,2012.0 2293.9,2012.2 2294.7,2012.2 2296.9,2012.4 2299.1,2012.6 2300.6,2012.7 2301.3,2012.8 2303.5,2012.9 2305.7,2013.1 2307.4,2013.3 2307.9,2013.3 2310.1,2013.5 2312.3,2013.7 2314.1,2013.8 2314.5,2013.9 2316.6,2014.0 2318.8,2014.2 2320.9,2014.4 2321.0,2014.4 2323.2,2014.6 2325.4,2014.8 2327.6,2015.0" stroke="#36006a" stroke-width="9.8" stroke-linecap="round"/>
<path d="M342.5,50.0 342.6,50.6 342.7,51.9 342.8,53.8 343.0,56.1 343.3,59.0 343.6,62.2 343.9,65.8 344.3,69.8 344.7,74.2 345.1,78.9 345.5,83.9 346.0,89.2 346.5,94.8 347.1,100.7 347.6,106.9 348.2,113.4 348.9,120.1 349.5,127.0 350.2,134.2 350.9,141.6 351.6,149.3 352.3,157.1 353.1,165.2 353.9,173.4 354.7,181.9 355.6,190.5 356.4,199.3 357.3,208.2 358.2,217.4 359.2,226.7 360.1,236.1 361.1,245.7 362.1,255.4 363.1,265.2 364.2,275.2 365.2,285.3 366.3,295.5 367.4,305.8 368.6,316.2 369.7,326.7 370.9,337.3 372.0,347.9 373.3,358.7 374.5,369.5 375.7,380.4 377.0,391.4 378.3,402.4 379.6,413.5 380.9,424.7 382.2,435.8 383.6,447.1 385.0,458.4 386.4,469.7 387.8,481.0 389.2,492.4 390.7,503.8 392.2,515.2 393.6,526.6 395.2,538.0 396.7,549.5 398.2,560.9 399.8,572.4 401.4,583.8 403.0,595.3 404.6,606.7 406.2,618.2 407.9,629.6 409.5,641.0 411.2,652.4 412.9,663.8 414.6,675.1 416.4,686.5 418.1,697.8 419.9,709.0 421.7,720.3 423.5,731.5 425.3,742.6 427.1,753.8 429.0,764.9 430.9,775.9 432.7,786.9 434.7,797.9 436.6,808.8 438.5,819.6 440.5,830.5 442.4,841.2 444.4,851.9 446.4,862.6 448.4,873.2 450.5,883.7 452.5,894.2 454.6,904.6 456.6,915.0 458.7,925.3 460.8,935.5 463.0,945.7 465.1,955.8 467.3,965.9 469.4,975.9 471.6,985.8 473.8,995.7 476.0,1005.5 478.3,1015.2 480.5,1024.8 482.8,1034.4 485.1,1043.9 487.4,1053.4 489.7,1062.7 492.0,1072.0 494.3,1081.3 496.7,1090.4 499.1,1099.5 501.4,1108.6 503.8,1117.5 506.3,1126.4 508.7,1135.2 511.1,1143.9 513.6,1152.6 516.1,1161.2 518.5,1169.7 521.0,1178.1 523.6,1186.5 526.1,1194.8 528.6,1203.0 531.2,1211.2 533.8,1219.2 536.4,1227.3 539.0,1235.2 541.6,1243.1 544.2,1250.9 546.9,1258.6 549.5,1266.2 552.2,1273.8 554.9,1281.3 557.6,1288.8 560.3,1296.1 563.0,1303.4 565.8,1310.7 568.5,1317.8 571.3,1324.9 574.1,1332.0 576.9,1338.9 579.7,1345.8 582.5,1352.6 585.4,1359.4 588.2,1366.1 591.1,1372.7 594.0,1379.3 596.9,1385.8 599.8,1392.2 602.7,1398.5 605.6,1404.8 608.6,1411.1 611.5,1417.3 614.5,1423.4 617.5,1429.4 620.5,1435.4 623.5,1441.3 626.5,1447.2 629.6,1453.0 632.6,1458.7 635.7,1464.4 638.8,1470.0 641.9,1475.6 645.0,1481.1 648.1,1486.6 651.3,1492.0 654.4,1497.3 657.6,1502.6 660.8,1507.8 663.9,1513.0 667.1,1518.1 670.4,1523.1 673.6,1528.1 676.8,1533.1 680.1,1538.0 683.4,1542.8 686.6,1547.6 689.9,1552.4 693.2,1557.1 696.6,1561.7 699.9,1566.3 703.2,1570.8 706.6,1575.3 710.0,1579.8 713.3,1584.2 716.7,1588.5 720.1,1592.8 723.6,1597.1 727.0,1601.3 730.4,1605.5 733.9,1609.6 737.4,1613.7 740.9,1617.7 744.4,1621.7 747.9,1625.6 751.4,1629.5 754.9,1633.4 758.5,1637.2 762.0,1641.0 765.6,1644.7 769.2,1648.4 772.8,1652.0 776.4,1655.6 780.0,1659.2 783.7,1662.7 787.3,1666.2 791.0,1669.7 794.6,1673.1 798.3,1676.5 802.0,1679.8 805.7,1683.1 809.4,1686.4 813.2,1689.6 816.9,1692.8 820.7,1696.0 824.4,1699.1 828.2,1702.2 832.0,1705.3 835.8,1708.3 839.6,1711.3 843.5,1714.2 847.3,1717.2 851.2,1720.1 855.0,1722.9 858.9,1725.7 862.8,1728.5 866.7,1731.3 870.6,1734.1 874.6,1736.8 878.5,1739.4 882.4,1742.1 886.4,1744.7 890.4,1747.3 894.4,1749.9 898.4,1752.4 902.4,1754.9 906.4,1757.4 910.4,1759.8 914.5,1762.3 918.5,1764.7 922.6,1767.0 926.7,1769.4 930.8,1771.7 934.9,1774.0 939.0,1776.3 943.1,1778.5 947.3,1780.8 951.4,1783.0 955.6,1785.1 959.8,1787.3 963.9,1789.4 968.1,1791.5 972.3,1793.6 976.6,1795.7 980.8,1797.7 985.0,1799.7 989.3,1801.7 993.6,1803.7 997.8,1805.6 1002.1,1807.5 1006.4,1809.5 1010.8,1811.3 1015.1,1813.2 1019.4,1815.1 1023.8,1816.9 1028.1,1818.7 1032.5,1820.5 1036.9,1822.3 1041.3,1824.0 1045.7,1825.7 1050.1,1827.4 1054.5,1829.1 1059.0,1830.8 1063.4,1832.5 1067.9,1834.1 1072.3,1835.7 1076.8,1837.4 1081.3,1838.9 1085.8,1840.5 1090.4,1842.1 1094.9,1843.6 1099.4,1845.1 1104.0,1846.6 1108.5,1848.1 1113.1,1849.6 1117.7,1851.1 1122.3,1852.5 1126.9,1853.9 1131.5,1855.4 1136.2,1856.8 1140.8,1858.1 1145.5,1859.5 1150.1,1860.9 1154.8,1862.2 1159.5,1863.5 1164.2,1864.9 1168.9,1866.2 1173.6,1867.5 1178.3,1868.7 1183.1,1870.0 1187.8,1871.2 1192.6,1872.5 1197.4,1873.7 1202.2,1874.9 1207.0,1876.1 1211.8,1877.3 1216.6,1878.5 1221.4,1879.6 1226.3,1880.8 1231.1,1881.9 1236.0,1883.0 1240.8,1884.2 1245.7,1885.3 1250.6,1886.3 1255.5,1887.4 1260.4,1888.5 1265.4,1889.6 1270.3,1890.6 1275.3,1891.6 1280.2,1892.7 1285.2,1893.7 1290.2,1894.7 1295.2,1895.7 1300.2,1896.7 1305.2,1897.7 1310.2,1898.6 1315.3,1899.6 1320.3,1900.5 1325.4,1901.5 1330.4,1902.4 1335.5,1903.3 1340.6,1904.2 1345.7,1905.1 1350.8,1906.0 1355.9,1906.9 1361.1,1907.8 1366.2,1908.7 1371.4,1909.5 1376.5,1910.4 1381.7,1911.2 1386.9,1912.0 1392.1,1912.9 1397.3,1913.7 1402.5,1914.5 1407.7,1915.3 1413.0,1916.1 1418.2,1916.9 1423.5,1917.7 1428.8,1918.4 1434.0,1919.2 1439.3,1920.0 1444.6,1920.7 1449.9,1921.5 1455.3,1922.2 1460.6,1922.9 1465.9,1923.7 1471.3,1924.4 1476.7,1925.1 1482.0,1925.8 1487.4,1926.5 1492.8,1927.2 1498.2,1927.9 1503.6,1928.5 1509.1,1929.2 1514.5,1929.9 1520.0,1930.5 1525.4,1931.2 1530.9,1931.8 1536.4,1932.5 1541.9,1933.1 1547.4,1933.8 1552.9,1934.4 1558.4,1935.0 1563.9,1935.6 1569.5,1936.2 1575.0,1936.8 1580.6,1937.4 1586.2,1938.0 1591.7,1938.6 1597.3,1939.2 1602.9,1939.8 1608.6,1940.4 1614.2,1940.9 1619.8,1941.5 1625.5,1942.1 1631.1,1942.6 1636.8,1943.2 1642.5,1943.7 1648.1,1944.3 1653.8,1944.8 1659.5,1945.3 1665.3,1945.9 1671.0,1946.4 1676.7,1946.9 1682.5,1947.5 1688.2,1948.0 1694.0,1948.5 1699.8,1949.0 1705.6,1949.5 1711.4,1950.0 1717.2,1950.5 1723.0,1951.0 1728.8,1951.5 1734.7,1952.0 1740.5,1952.5 1746.4,1953.0 1752.2,1953.5 1758.1,1953.9 1764.0,1954.4 1769.9,1954.9 1775.8,1955.4 1781.7,1955.8 1787.7,1956.3 1793.6,1956.8 1799.6,1957.2 1805.5,1957.7 1811.5,1958.2 1817.5,1958.6 1823.4,1959.1 1829.4,1959.5 1835.5,1960.0 1841.5,1960.5 1847.5,1960.9 1853.5,1961.4 1859.6,1961.8 1865.7,1962.3 1871.7,1962.7 1877.8,1963.2 1883.9,1963.6 1890.0,1964.1 1896.1,1964.6 1902.2,1965.0 1908.3,1965.5 1914.5,1965.9 1920.6,1966.4 1926.8,1966.8 1933.0,1967.3 1939.1,1967.8 1945.3,1968.2 1951.5,1968.7 1957.7,1969.2 1963.9,1969.6 1970.2,1970.1 1976.4,1970.6 1982.7,1971.1 1988.9,1971.6 1995.2,1972.0 2001.5,1972.5 2007.7,1973.0 2014.0,1973.5 2020.3,1974.1 2026.7,1974.6 2033.0,1975.1 2039.3,1975.6 2045.7,1976.1 2052.0,1976.7 2058.4,1977.2 2064.8,1977.8 2066.4,1977.9 2068.6,1978.1 2070.8,1978.3 2071.1,1978.4 2073.0,1978.5 2075.2,1978.7 2077.4,1978.9 2077.5,1978.9 2079.6,1979.1 2081.8,1979.3 2083.9,1979.5 2084.0,1979.5 2086.2,1979.7 2088.4,1979.9 2090.3,1980.1 2090.6,1980.1 2092.8,1980.3 2095.0,1980.5 2096.8,1980.7 2097.1,1980.7 2099.3,1981.0 2101.5,1981.2 2103.2,1981.3 2103.7,1981.4 2105.9,1981.6 2108.1,1981.8 2109.6,1982.0 2110.3,1982.0 2112.5,1982.2 2114.7,1982.5 2116.1,1982.6 2116.9,1982.7 2119.1,1982.9 2121.3,1983.1 2122.6,1983.2 2123.5,1983.3 2125.7,1983.6 2127.9,1983.8 2129.0,1983.9 2130.1,1984.0 2132.3,1984.2 2134.5,1984.5 2135.5,1984.6 2136.7,1984.7 2138.9,1984.9 2141.0,1985.2 2142.0,1985.3 2143.2,1985.4 2145.4,1985.7 2147.6,1985.9 2148.5,1986.0 2149.8,1986.1 2152.0,1986.4 2154.2,1986.6 2155.0,1986.7 2156.4,1986.9 2158.6,1987.1 2160.8,1987.4 2161.5,1987.5 2163.0,1987.6 2165.2,1987.9 2167.4,1988.1 2168.1,1988.2 2169.6,1988.4 2171.8,1988.7 2174.0,1988.9 2174.6,1989.0 2176.2,1989.2 2178.4,1989.5 2180.6,1989.7 2181.1,1989.8 2182.8,1990.0 2184.9,1990.3 2187.1,1990.6 2187.7,1990.6 2189.3,1990.8 2191.5,1991.1 2193.7,1991.4 2194.3,1991.5 2195.9,1991.7 2198.1,1992.0 2200.3,1992.3 2200.8,1992.3 2202.5,1992.6 2204.7,1992.9 2206.9,1993.2 2207.4,1993.2 2209.1,1993.5 2211.3,1993.8 2213.5,1994.1 2214.0,1994.2 2215.7,1994.4 2217.9,1994.7 2220.1,1995.0 2220.6,1995.1 2222.3,1995.3 2224.5,1995.7 2226.7,1996.0 2227.2,1996.1 2228.8,1996.3 2231.0,1996.6 2233.2,1997.0 2233.9,1997.1 2235.4,1997.3 2237.6,1997.7 2239.8,1998.0 2240.5,1998.1 2242.0,1998.3 2244.2,1998.7 2246.4,1999.0 2247.1,1999.2 2248.6,1999.4 2250.8,1999.8 2253.0,2000.1 2253.8,2000.3 2255.2,2000.5 2257.4,2000.9 2259.6,2001.2 2260.5,2001.4 2261.8,2001.6 2264.0,2002.0 2266.2,2002.4 2267.1,2002.6 2268.4,2002.8 2270.6,2003.2 2272.7,2003.6 2273.8,2003.8 2274.9,2004.0 2277.1,2004.4 2279.3,2004.8 2280.5,2005.0 2281.5,2005.2 2283.7,2005.6 2285.9,2006.0 2287.2,2006.3 2288.1,2006.5 2290.3,2006.9 2292.5,2007.3 2293.9,2007.6 2294.7,2007.8 2296.9,2008.2 2299.1,2008.7 2300.6,2009.0 2301.3,2009.1 2303.5,2009.6 2305.7,2010.1 2307.4,2010.4 2307.9,2010.5 2310.1,2011.0 2312.3,2011.5 2314.1,2011.9 2314.5,2012.0 2316.6,2012.5 2318.8,2013.0 2320.9,2013.4 2321.0,2013.5 2323.2,2014.0 2325.4,2014.5 2327.6,2015.0" stroke="#000000" stroke-width="11.7" stroke-dasharray="42 19.85" stroke-linecap="butt"/>
<path d="M342.5,50.0 342.6,50.5 342.7,51.6 342.8,53.1 343.0,55.1 343.3,57.4 343.6,60.1 343.9,63.1 344.3,66.4 344.7,70.1 345.1,74.0 345.5,78.1 346.0,82.6 346.5,87.3 347.1,92.2 347.6,97.3 348.2,102.7 348.9,108.3 349.5,114.1 350.2,120.1 350.9,126.4 351.6,132.8 352.3,139.3 353.1,146.1 353.9,153.0 354.7,160.1 355.6,167.4 356.4,174.8 357.3,182.4 358.2,190.1 359.2,197.9 360.1,205.9 361.1,214.0 362.1,222.3 363.1,230.6 364.2,239.1 365.2,247.7 366.3,256.4 367.4,265.2 368.6,274.1 369.7,283.1 370.9,292.1 372.0,301.3 373.3,310.6 374.5,319.9 375.7,329.3 377.0,338.7 378.3,348.3 379.6,357.9 380.9,367.5 382.2,377.2 383.6,387.0 385.0,396.8 386.4,406.7 387.8,416.6 389.2,426.5 390.7,436.5 392.2,446.5 393.6,456.5 395.2,466.6 396.7,476.7 398.2,486.8 399.8,496.9 401.4,507.0 403.0,517.2 404.6,527.4 406.2,537.6 407.9,547.7 409.5,557.9 411.2,568.1 412.9,578.3 414.6,588.5 416.4,598.7 418.1,608.8 419.9,619.0 421.7,629.1 423.5,639.3 425.3,649.4 427.1,659.5 429.0,669.6 430.9,679.7 432.7,689.7 434.7,699.7 436.6,709.7 438.5,719.7 440.5,729.6 442.4,739.6 444.4,749.4 446.4,759.3 448.4,769.1 450.5,778.9 452.5,788.6 454.6,798.3 456.6,808.0 458.7,817.6 460.8,827.2 463.0,836.8 465.1,846.3 467.3,855.7 469.4,865.1 471.6,874.5 473.8,883.8 476.0,893.1 478.3,902.3 480.5,911.5 482.8,920.6 485.1,929.7 487.4,938.8 489.7,947.7 492.0,956.7 494.3,965.6 496.7,974.4 499.1,983.2 501.4,991.9 503.8,1000.5 506.3,1009.2 508.7,1017.7 511.1,1026.2 513.6,1034.7 516.1,1043.1 518.5,1051.4 521.0,1059.7 523.6,1067.9 526.1,1076.1 528.6,1084.2 531.2,1092.3 533.8,1100.3 536.4,1108.2 539.0,1116.1 541.6,1123.9 544.2,1131.7 546.9,1139.4 549.5,1147.1 552.2,1154.7 554.9,1162.2 557.6,1169.7 560.3,1177.1 563.0,1184.5 565.8,1191.8 568.5,1199.1 571.3,1206.3 574.1,1213.4 576.9,1220.5 579.7,1227.5 582.5,1234.5 585.4,1241.4 588.2,1248.3 591.1,1255.1 594.0,1261.8 596.9,1268.5 599.8,1275.2 602.7,1281.8 605.6,1288.3 608.6,1294.8 611.5,1301.2 614.5,1307.6 617.5,1313.9 620.5,1320.1 623.5,1326.3 626.5,1332.5 629.6,1338.6 632.6,1344.6 635.7,1350.6 638.8,1356.6 641.9,1362.4 645.0,1368.3 648.1,1374.1 651.3,1379.8 654.4,1385.5 657.6,1391.1 660.8,1396.7 663.9,1402.2 667.1,1407.7 670.4,1413.1 673.6,1418.5 676.8,1423.9 680.1,1429.1 683.4,1434.4 686.6,1439.6 689.9,1444.7 693.2,1449.8 696.6,1454.9 699.9,1459.9 703.2,1464.8 706.6,1469.7 710.0,1474.6 713.3,1479.4 716.7,1484.2 720.1,1488.9 723.6,1493.6 727.0,1498.3 730.4,1502.9 733.9,1507.4 737.4,1511.9 740.9,1516.4 744.4,1520.9 747.9,1525.2 751.4,1529.6 754.9,1533.9 758.5,1538.2 762.0,1542.4 765.6,1546.6 769.2,1550.7 772.8,1554.8 776.4,1558.9 780.0,1562.9 783.7,1566.9 787.3,1570.9 791.0,1574.8 794.6,1578.7 798.3,1582.5 802.0,1586.3 805.7,1590.1 809.4,1593.8 813.2,1597.5 816.9,1601.2 820.7,1604.8 824.4,1608.4 828.2,1612.0 832.0,1615.5 835.8,1619.0 839.6,1622.4 843.5,1625.9 847.3,1629.3 851.2,1632.6 855.0,1635.9 858.9,1639.2 862.8,1642.5 866.7,1645.7 870.6,1648.9 874.6,1652.1 878.5,1655.2 882.4,1658.3 886.4,1661.4 890.4,1664.5 894.4,1667.5 898.4,1670.5 902.4,1673.4 906.4,1676.4 910.4,1679.3 914.5,1682.2 918.5,1685.0 922.6,1687.8 926.7,1690.6 930.8,1693.4 934.9,1696.1 939.0,1698.8 943.1,1701.5 947.3,1704.2 951.4,1706.8 955.6,1709.5 959.8,1712.0 963.9,1714.6 968.1,1717.1 972.3,1719.7 976.6,1722.1 980.8,1724.6 985.0,1727.0 989.3,1729.5 993.6,1731.9 997.8,1734.2 1002.1,1736.6 1006.4,1738.9 1010.8,1741.2 1015.1,1743.5 1019.4,1745.8 1023.8,1748.0 1028.1,1750.2 1032.5,1752.4 1036.9,1754.6 1041.3,1756.7 1045.7,1758.9 1050.1,1761.0 1054.5,1763.1 1059.0,1765.2 1063.4,1767.2 1067.9,1769.2 1072.3,1771.3 1076.8,1773.3 1081.3,1775.2 1085.8,1777.2 1090.4,1779.1 1094.9,1781.1 1099.4,1783.0 1104.0,1784.8 1108.5,1786.7 1113.1,1788.6 1117.7,1790.4 1122.3,1792.2 1126.9,1794.0 1131.5,1795.8 1136.2,1797.6 1140.8,1799.3 1145.5,1801.0 1150.1,1802.7 1154.8,1804.4 1159.5,1806.1 1164.2,1807.8 1168.9,1809.4 1173.6,1811.1 1178.3,1812.7 1183.1,1814.3 1187.8,1815.9 1192.6,1817.5 1197.4,1819.0 1202.2,1820.6 1207.0,1822.1 1211.8,1823.6 1216.6,1825.1 1221.4,1826.6 1226.3,1828.1 1231.1,1829.6 1236.0,1831.0 1240.8,1832.5 1245.7,1833.9 1250.6,1835.3 1255.5,1836.7 1260.4,1838.1 1265.4,1839.4 1270.3,1840.8 1275.3,1842.1 1280.2,1843.5 1285.2,1844.8 1290.2,1846.1 1295.2,1847.4 1300.2,1848.7 1305.2,1850.0 1310.2,1851.2 1315.3,1852.5 1320.3,1853.7 1325.4,1854.9 1330.4,1856.2 1335.5,1857.4 1340.6,1858.6 1345.7,1859.8 1350.8,1860.9 1355.9,1862.1 1361.1,1863.2 1366.2,1864.4 1371.4,1865.5 1376.5,1866.6 1381.7,1867.7 1386.9,1868.8 1392.1,1869.9 1397.3,1871.0 1402.5,1872.1 1407.7,1873.2 1413.0,1874.2 1418.2,1875.3 1423.5,1876.3 1428.8,1877.3 1434.0,1878.3 1439.3,1879.3 1444.6,1880.3 1449.9,1881.3 1455.3,1882.3 1460.6,1883.3 1465.9,1884.2 1471.3,1885.2 1476.7,1886.1 1482.0,1887.1 1487.4,1888.0 1492.8,1888.9 1498.2,1889.8 1503.6,1890.8 1509.1,1891.7 1514.5,1892.5 1520.0,1893.4 1525.4,1894.3 1530.9,1895.2 1536.4,1896.0 1541.9,1896.9 1547.4,1897.7 1552.9,1898.6 1558.4,1899.4 1563.9,1900.2 1569.5,1901.0 1575.0,1901.8 1580.6,1902.6 1586.2,1903.4 1591.7,1904.2 1597.3,1905.0 1602.9,1905.8 1608.6,1906.6 1614.2,1907.3 1619.8,1908.1 1625.5,1908.8 1631.1,1909.6 1636.8,1910.3 1642.5,1911.0 1648.1,1911.8 1653.8,1912.5 1659.5,1913.2 1665.3,1913.9 1671.0,1914.6 1676.7,1915.3 1682.5,1916.0 1688.2,1916.7 1694.0,1917.4 1699.8,1918.0 1705.6,1918.7 1711.4,1919.4 1717.2,1920.0 1723.0,1920.7 1728.8,1921.3 1734.7,1922.0 1740.5,1922.6 1746.4,1923.2 1752.2,1923.9 1758.1,1924.5 1764.0,1925.1 1769.9,1925.7 1775.8,1926.3 1781.7,1926.9 1787.7,1927.5 1793.6,1928.1 1799.6,1928.7 1805.5,1929.3 1811.5,1929.9 1817.5,1930.5 1823.4,1931.0 1829.4,1931.6 1835.5,1932.2 1841.5,1932.7 1847.5,1933.3 1853.5,1933.9 1859.6,1934.4 1865.7,1935.0 1871.7,1935.5 1877.8,1936.1 1883.9,1936.6 1890.0,1937.2 1896.1,1937.7 1902.2,1938.2 1908.3,1938.8 1914.5,1939.3 1920.6,1939.8 1926.8,1940.4 1933.0,1940.9 1939.1,1941.4 1945.3,1942.0 1951.5,1942.5 1957.7,1943.0 1963.9,1943.6 1970.2,1944.1 1976.4,1944.6 1982.7,1945.2 1988.9,1945.7 1995.2,1946.2 2001.5,1946.8 2007.7,1947.3 2014.0,1947.9 2020.3,1948.4 2026.7,1949.0 2033.0,1949.6 2039.3,1950.1 2045.7,1950.7 2052.0,1951.3 2058.4,1951.9 2064.8,1952.5 2066.4,1952.7 2068.6,1952.9 2070.8,1953.1 2071.1,1953.1 2073.0,1953.3 2075.2,1953.5 2077.4,1953.7 2077.5,1953.8 2079.6,1954.0 2081.8,1954.2 2083.9,1954.4 2084.0,1954.4 2086.2,1954.6 2088.4,1954.9 2090.3,1955.1 2090.6,1955.1 2092.8,1955.3 2095.0,1955.5 2096.8,1955.7 2097.1,1955.8 2099.3,1956.0 2101.5,1956.2 2103.2,1956.4 2103.7,1956.5 2105.9,1956.7 2108.1,1957.0 2109.6,1957.1 2110.3,1957.2 2112.5,1957.5 2114.7,1957.7 2116.1,1957.9 2116.9,1958.0 2119.1,1958.2 2121.3,1958.5 2122.6,1958.6 2123.5,1958.7 2125.7,1959.0 2127.9,1959.3 2129.0,1959.4 2130.1,1959.5 2132.3,1959.8 2134.5,1960.1 2135.5,1960.2 2136.7,1960.4 2138.9,1960.7 2141.0,1960.9 2142.0,1961.1 2143.2,1961.2 2145.4,1961.5 2147.6,1961.8 2148.5,1961.9 2149.8,1962.1 2152.0,1962.4 2154.2,1962.7 2155.0,1962.8 2156.4,1963.0 2158.6,1963.4 2160.8,1963.7 2161.5,1963.8 2163.0,1964.0 2165.2,1964.3 2167.4,1964.7 2168.1,1964.8 2169.6,1965.0 2171.8,1965.3 2174.0,1965.7 2174.6,1965.8 2176.2,1966.0 2178.4,1966.4 2180.6,1966.8 2181.1,1966.9 2182.8,1967.1 2184.9,1967.5 2187.1,1967.9 2187.7,1968.0 2189.3,1968.3 2191.5,1968.7 2193.7,1969.1 2194.3,1969.2 2195.9,1969.5 2198.1,1969.9 2200.3,1970.3 2200.8,1970.4 2202.5,1970.7 2204.7,1971.2 2206.9,1971.6 2207.4,1971.7 2209.1,1972.1 2211.3,1972.5 2213.5,1973.0 2214.0,1973.1 2215.7,1973.5 2217.9,1973.9 2220.1,1974.4 2220.6,1974.5 2222.3,1974.9 2224.5,1975.4 2226.7,1975.9 2227.2,1976.1 2228.8,1976.5 2231.0,1977.0 2233.2,1977.5 2233.9,1977.7 2235.4,1978.1 2237.6,1978.7 2239.8,1979.2 2240.5,1979.4 2242.0,1979.8 2244.2,1980.4 2246.4,1981.0 2247.1,1981.2 2248.6,1981.7 2250.8,1982.3 2253.0,1982.9 2253.8,1983.2 2255.2,1983.6 2257.4,1984.3 2259.6,1985.0 2260.5,1985.2 2261.8,1985.7 2264.0,1986.4 2266.2,1987.1 2267.1,1987.4 2268.4,1987.8 2270.6,1988.6 2272.7,1989.4 2273.8,1989.7 2274.9,1990.2 2277.1,1991.0 2279.3,1991.8 2280.5,1992.2 2281.5,1992.6 2283.7,1993.5 2285.9,1994.3 2287.2,1994.9 2288.1,1995.2 2290.3,1996.1 2292.5,1997.1 2293.9,1997.7 2294.7,1998.0 2296.9,1999.0 2299.1,2000.0 2300.6,2000.7 2301.3,2001.0 2303.5,2002.0 2305.7,2003.1 2307.4,2003.9 2307.9,2004.2 2310.1,2005.3 2312.3,2006.4 2314.1,2007.4 2314.5,2007.5 2316.6,2008.7 2318.8,2009.9 2320.9,2011.1 2321.0,2011.2 2323.2,2012.4 2325.4,2013.7 2327.6,2015.0" stroke="#ad0099" stroke-width="10.5" stroke-linecap="round"/>
<path d="M342.5,50.0 342.6,50.4 342.7,51.3 342.8,52.6 343.0,54.3 343.3,56.2 343.6,58.5 343.9,61.0 344.3,63.8 344.7,66.8 345.1,70.1 345.5,73.6 346.0,77.3 346.5,81.3 347.1,85.4 347.6,89.7 348.2,94.3 348.9,99.0 349.5,103.9 350.2,109.0 350.9,114.2 351.6,119.6 352.3,125.2 353.1,130.9 353.9,136.8 354.7,142.8 355.6,149.0 356.4,155.3 357.3,161.7 358.2,168.3 359.2,174.9 360.1,181.8 361.1,188.7 362.1,195.7 363.1,202.9 364.2,210.1 365.2,217.5 366.3,225.0 367.4,232.5 368.6,240.2 369.7,247.9 370.9,255.7 372.0,263.6 373.3,271.6 374.5,279.7 375.7,287.8 377.0,296.0 378.3,304.3 379.6,312.7 380.9,321.1 382.2,329.5 383.6,338.1 385.0,346.6 386.4,355.3 387.8,363.9 389.2,372.7 390.7,381.4 392.2,390.2 393.6,399.1 395.2,408.0 396.7,416.9 398.2,425.8 399.8,434.8 401.4,443.8 403.0,452.8 404.6,461.9 406.2,471.0 407.9,480.1 409.5,489.2 411.2,498.3 412.9,507.4 414.6,516.6 416.4,525.7 418.1,534.9 419.9,544.0 421.7,553.2 423.5,562.4 425.3,571.6 427.1,580.7 429.0,589.9 430.9,599.1 432.7,608.2 434.7,617.4 436.6,626.5 438.5,635.7 440.5,644.8 442.4,653.9 444.4,663.0 446.4,672.0 448.4,681.1 450.5,690.1 452.5,699.2 454.6,708.2 456.6,717.2 458.7,726.1 460.8,735.0 463.0,744.0 465.1,752.8 467.3,761.7 469.4,770.5 471.6,779.3 473.8,788.1 476.0,796.8 478.3,805.5 480.5,814.2 482.8,822.9 485.1,831.5 487.4,840.1 489.7,848.6 492.0,857.1 494.3,865.6 496.7,874.0 499.1,882.4 501.4,890.8 503.8,899.1 506.3,907.4 508.7,915.6 511.1,923.8 513.6,932.0 516.1,940.1 518.5,948.2 521.0,956.2 523.6,964.2 526.1,972.2 528.6,980.1 531.2,987.9 533.8,995.8 536.4,1003.5 539.0,1011.3 541.6,1019.0 544.2,1026.6 546.9,1034.2 549.5,1041.8 552.2,1049.3 554.9,1056.8 557.6,1064.2 560.3,1071.6 563.0,1078.9 565.8,1086.2 568.5,1093.4 571.3,1100.6 574.1,1107.8 576.9,1114.9 579.7,1121.9 582.5,1128.9 585.4,1135.9 588.2,1142.8 591.1,1149.7 594.0,1156.5 596.9,1163.3 599.8,1170.0 602.7,1176.7 605.6,1183.3 608.6,1189.9 611.5,1196.5 614.5,1203.0 617.5,1209.4 620.5,1215.8 623.5,1222.2 626.5,1228.5 629.6,1234.8 632.6,1241.0 635.7,1247.2 638.8,1253.3 641.9,1259.4 645.0,1265.5 648.1,1271.5 651.3,1277.4 654.4,1283.3 657.6,1289.2 660.8,1295.0 663.9,1300.8 667.1,1306.5 670.4,1312.2 673.6,1317.9 676.8,1323.5 680.1,1329.0 683.4,1334.5 686.6,1340.0 689.9,1345.4 693.2,1350.8 696.6,1356.2 699.9,1361.5 703.2,1366.7 706.6,1371.9 710.0,1377.1 713.3,1382.2 716.7,1387.3 720.1,1392.4 723.6,1397.4 727.0,1402.4 730.4,1407.3 733.9,1412.2 737.4,1417.1 740.9,1421.9 744.4,1426.6 747.9,1431.4 751.4,1436.1 754.9,1440.7 758.5,1445.3 762.0,1449.9 765.6,1454.5 769.2,1459.0 772.8,1463.4 776.4,1467.9 780.0,1472.3 783.7,1476.6 787.3,1480.9 791.0,1485.2 794.6,1489.5 798.3,1493.7 802.0,1497.9 805.7,1502.0 809.4,1506.1 813.2,1510.2 816.9,1514.2 820.7,1518.2 824.4,1522.2 828.2,1526.1 832.0,1530.0 835.8,1533.9 839.6,1537.8 843.5,1541.6 847.3,1545.3 851.2,1549.1 855.0,1552.8 858.9,1556.5 862.8,1560.1 866.7,1563.7 870.6,1567.3 874.6,1570.9 878.5,1574.4 882.4,1577.9 886.4,1581.3 890.4,1584.8 894.4,1588.2 898.4,1591.5 902.4,1594.9 906.4,1598.2 910.4,1601.5 914.5,1604.7 918.5,1608.0 922.6,1611.2 926.7,1614.4 930.8,1617.5 934.9,1620.6 939.0,1623.7 943.1,1626.8 947.3,1629.8 951.4,1632.8 955.6,1635.8 959.8,1638.8 963.9,1641.7 968.1,1644.6 972.3,1647.5 976.6,1650.4 980.8,1653.2 985.0,1656.0 989.3,1658.8 993.6,1661.6 997.8,1664.3 1002.1,1667.0 1006.4,1669.7 1010.8,1672.4 1015.1,1675.0 1019.4,1677.7 1023.8,1680.3 1028.1,1682.8 1032.5,1685.4 1036.9,1687.9 1041.3,1690.4 1045.7,1692.9 1050.1,1695.4 1054.5,1697.9 1059.0,1700.3 1063.4,1702.7 1067.9,1705.1 1072.3,1707.4 1076.8,1709.8 1081.3,1712.1 1085.8,1714.4 1090.4,1716.7 1094.9,1718.9 1099.4,1721.2 1104.0,1723.4 1108.5,1725.6 1113.1,1727.8 1117.7,1730.0 1122.3,1732.1 1126.9,1734.2 1131.5,1736.3 1136.2,1738.4 1140.8,1740.5 1145.5,1742.6 1150.1,1744.6 1154.8,1746.6 1159.5,1748.6 1164.2,1750.6 1168.9,1752.6 1173.6,1754.5 1178.3,1756.5 1183.1,1758.4 1187.8,1760.3 1192.6,1762.2 1197.4,1764.1 1202.2,1765.9 1207.0,1767.8 1211.8,1769.6 1216.6,1771.4 1221.4,1773.2 1226.3,1775.0 1231.1,1776.7 1236.0,1778.5 1240.8,1780.2 1245.7,1781.9 1250.6,1783.6 1255.5,1785.3 1260.4,1787.0 1265.4,1788.6 1270.3,1790.3 1275.3,1791.9 1280.2,1793.5 1285.2,1795.1 1290.2,1796.7 1295.2,1798.3 1300.2,1799.9 1305.2,1801.4 1310.2,1802.9 1315.3,1804.5 1320.3,1806.0 1325.4,1807.5 1330.4,1809.0 1335.5,1810.4 1340.6,1811.9 1345.7,1813.3 1350.8,1814.8 1355.9,1816.2 1361.1,1817.6 1366.2,1819.0 1371.4,1820.4 1376.5,1821.8 1381.7,1823.2 1386.9,1824.5 1392.1,1825.8 1397.3,1827.2 1402.5,1828.5 1407.7,1829.8 1413.0,1831.1 1418.2,1832.4 1423.5,1833.7 1428.8,1834.9 1434.0,1836.2 1439.3,1837.4 1444.6,1838.7 1449.9,1839.9 1455.3,1841.1 1460.6,1842.3 1465.9,1843.5 1471.3,1844.7 1476.7,1845.9 1482.0,1847.0 1487.4,1848.2 1492.8,1849.4 1498.2,1850.5 1503.6,1851.6 1509.1,1852.7 1514.5,1853.8 1520.0,1854.9 1525.4,1856.0 1530.9,1857.1 1536.4,1858.2 1541.9,1859.3 1547.4,1860.3 1552.9,1861.4 1558.4,1862.4 1563.9,1863.4 1569.5,1864.5 1575.0,1865.5 1580.6,1866.5 1586.2,1867.5 1591.7,1868.5 1597.3,1869.5 1602.9,1870.4 1608.6,1871.4 1614.2,1872.4 1619.8,1873.3 1625.5,1874.2 1631.1,1875.2 1636.8,1876.1 1642.5,1877.0 1648.1,1877.9 1653.8,1878.9 1659.5,1879.8 1665.3,1880.6 1671.0,1881.5 1676.7,1882.4 1682.5,1883.3 1688.2,1884.1 1694.0,1885.0 1699.8,1885.9 1705.6,1886.7 1711.4,1887.5 1717.2,1888.4 1723.0,1889.2 1728.8,1890.0 1734.7,1890.8 1740.5,1891.6 1746.4,1892.4 1752.2,1893.2 1758.1,1894.0 1764.0,1894.8 1769.9,1895.6 1775.8,1896.3 1781.7,1897.1 1787.7,1897.9 1793.6,1898.6 1799.6,1899.4 1805.5,1900.1 1811.5,1900.8 1817.5,1901.6 1823.4,1902.3 1829.4,1903.0 1835.5,1903.7 1841.5,1904.4 1847.5,1905.2 1853.5,1905.9 1859.6,1906.5 1865.7,1907.2 1871.7,1907.9 1877.8,1908.6 1883.9,1909.3 1890.0,1910.0 1896.1,1910.6 1902.2,1911.3 1908.3,1912.0 1914.5,1912.6 1920.6,1913.3 1926.8,1913.9 1933.0,1914.6 1939.1,1915.2 1945.3,1915.9 1951.5,1916.5 1957.7,1917.2 1963.9,1917.8 1970.2,1918.5 1976.4,1919.1 1982.7,1919.7 1988.9,1920.4 1995.2,1921.0 2001.5,1921.7 2007.7,1922.3 2014.0,1922.9 2020.3,1923.6 2026.7,1924.2 2033.0,1924.9 2039.3,1925.6 2045.7,1926.2 2052.0,1926.9 2058.4,1927.6 2064.8,1928.3 2066.4,1928.5 2068.6,1928.7 2070.8,1928.9 2071.1,1929.0 2073.0,1929.2 2075.2,1929.4 2077.4,1929.7 2077.5,1929.7 2079.6,1929.9 2081.8,1930.2 2083.9,1930.4 2084.0,1930.4 2086.2,1930.7 2088.4,1930.9 2090.3,1931.2 2090.6,1931.2 2092.8,1931.4 2095.0,1931.7 2096.8,1931.9 2097.1,1932.0 2099.3,1932.2 2101.5,1932.5 2103.2,1932.7 2103.7,1932.8 2105.9,1933.0 2108.1,1933.3 2109.6,1933.5 2110.3,1933.6 2112.5,1933.9 2114.7,1934.1 2116.1,1934.3 2116.9,1934.4 2119.1,1934.7 2121.3,1935.0 2122.6,1935.2 2123.5,1935.3 2125.7,1935.6 2127.9,1935.9 2129.0,1936.1 2130.1,1936.2 2132.3,1936.5 2134.5,1936.8 2135.5,1937.0 2136.7,1937.1 2138.9,1937.4 2141.0,1937.8 2142.0,1937.9 2143.2,1938.1 2145.4,1938.4 2147.6,1938.8 2148.5,1938.9 2149.8,1939.1 2152.0,1939.5 2154.2,1939.8 2155.0,1939.9 2156.4,1940.2 2158.6,1940.5 2160.8,1940.9 2161.5,1941.0 2163.0,1941.3 2165.2,1941.7 2167.4,1942.0 2168.1,1942.2 2169.6,1942.4 2171.8,1942.8 2174.0,1943.2 2174.6,1943.4 2176.2,1943.7 2178.4,1944.1 2180.6,1944.5 2181.1,1944.6 2182.8,1945.0 2184.9,1945.4 2187.1,1945.9 2187.7,1946.0 2189.3,1946.3 2191.5,1946.8 2193.7,1947.3 2194.3,1947.4 2195.9,1947.8 2198.1,1948.3 2200.3,1948.8 2200.8,1948.9 2202.5,1949.3 2204.7,1949.8 2206.9,1950.4 2207.4,1950.5 2209.1,1950.9 2211.3,1951.5 2213.5,1952.1 2214.0,1952.2 2215.7,1952.7 2217.9,1953.3 2220.1,1953.9 2220.6,1954.1 2222.3,1954.6 2224.5,1955.2 2226.7,1955.9 2227.2,1956.0 2228.8,1956.5 2231.0,1957.2 2233.2,1958.0 2233.9,1958.2 2235.4,1958.7 2237.6,1959.4 2239.8,1960.2 2240.5,1960.4 2242.0,1961.0 2244.2,1961.8 2246.4,1962.6 2247.1,1962.9 2248.6,1963.5 2250.8,1964.3 2253.0,1965.2 2253.8,1965.6 2255.2,1966.1 2257.4,1967.1 2259.6,1968.0 2260.5,1968.4 2261.8,1969.0 2264.0,1970.0 2266.2,1971.1 2267.1,1971.5 2268.4,1972.1 2270.6,1973.2 2272.7,1974.3 2273.8,1974.9 2274.9,1975.5 2277.1,1976.7 2279.3,1977.9 2280.5,1978.5 2281.5,1979.1 2283.7,1980.4 2285.9,1981.7 2287.2,1982.5 2288.1,1983.1 2290.3,1984.5 2292.5,1985.9 2293.9,1986.8 2294.7,1987.3 2296.9,1988.8 2299.1,1990.4 2300.6,1991.5 2301.3,1992.0 2303.5,1993.6 2305.7,1995.3 2307.4,1996.6 2307.9,1997.0 2310.1,1998.8 2312.3,2000.6 2314.1,2002.2 2314.5,2002.5 2316.6,2004.5 2318.8,2006.5 2320.9,2008.3 2321.0,2008.5 2323.2,2010.6 2325.4,2012.8 2327.6,2015.0" stroke="#0068d6" stroke-width="11.7" stroke-dasharray="42 19.85" stroke-linecap="butt"/>
</g>
<line x1="553.5" y1="1928.3" x2="946" y2="1526" stroke="#000" stroke-width="11" stroke-linecap="round"/>
<path d="M974,1495 L900.5,1522.8 L948.5,1522.8 L948.8,1570 Z" fill="#000" stroke="#000" stroke-width="9" stroke-linejoin="round"/>
<rect x="964" y="212" width="1094" height="1076.5" fill="#fff" stroke="#000" stroke-width="5.5"/>
<line x1="1017" y1="333.2" x2="1623" y2="333.2" stroke="#ff0000" stroke-width="10.6" stroke-linecap="round"/>
<text font-size="116" x="1666 1720 1745 1811 1835.3 1868.7 1927.5 1954.3" y="372.3 372.3 380.3 372.3 372.3 372.3 372.3 372.3">ξ = -1.0</text>
<line x1="1023" y1="501.0" x2="1622" y2="501.0" stroke="#00ff00" stroke-width="10" stroke-dasharray="21.8 22.45" stroke-linecap="round"/>
<text font-size="116" x="1666 1720 1745 1811 1835.3 1868.7 1927.5 1954.3" y="539.6 539.6 547.6 539.6 539.6 539.6 539.6 539.6">ξ = -2.0</text>
<line x1="1017" y1="668.3" x2="1623" y2="668.3" stroke="#36006a" stroke-width="9.8" stroke-linecap="round"/>
<text font-size="116" x="1666 1720 1745 1811 1835.3 1868.7 1927.5 1954.3" y="706.9 706.9 714.9 706.9 706.9 706.9 706.9 706.9">ξ = -3.0</text>
<line x1="1022.4" y1="835.2" x2="1621" y2="835.2" stroke="#000000" stroke-width="11.7" stroke-dasharray="42 19.85" stroke-linecap="butt"/>
<text font-size="116" x="1666 1720 1745 1811 1835.3 1868.7 1927.5 1954.3" y="874.2 874.2 882.2 874.2 874.2 874.2 874.2 874.2">ξ = -4.0</text>
<line x1="1017" y1="1003.0" x2="1623" y2="1003.0" stroke="#ad0099" stroke-width="10.5" stroke-linecap="round"/>
<text font-size="116" x="1666 1720 1745 1811 1835.3 1868.7 1927.5 1954.3" y="1041.5 1041.5 1049.5 1041.5 1041.5 1041.5 1041.5 1041.5">ξ = -5.0</text>
<line x1="1022.4" y1="1170.0" x2="1621" y2="1170.0" stroke="#0068d6" stroke-width="11.7" stroke-dasharray="42 19.85" stroke-linecap="butt"/>
<text font-size="116" x="1666 1720 1745 1811 1835.3 1868.7 1927.5 1954.3" y="1208.8 1208.8 1216.8 1208.8 1208.8 1208.8 1208.8 1208.8">ξ = -6.0</text>
<g font-size="72" text-anchor="middle">
<text x="340.3" y="2144.5">0</text>
<text x="549.3" y="2144.5">4</text>
<text x="758.2" y="2144.5">8</text>
<text x="967.2" y="2144.5">12</text>
<text x="1176.1" y="2144.5">16</text>
<text x="1385.1" y="2144.5">20</text>
<text x="1594.1" y="2144.5">24</text>
<text x="1803.0" y="2144.5">28</text>
<text x="2012.0" y="2144.5">32</text>
<text x="2220.9" y="2144.5">36</text>
</g>
<g font-size="72" text-anchor="end">
<text x="306.2" y="73.0">1</text>
<text x="306.2" y="466.0">0.8</text>
<text x="306.2" y="859.0">0.6</text>
<text x="306.2" y="1252.0">0.4</text>
<text x="306.2" y="1645.0">0.2</text>
<text x="306.2" y="2038.0">0</text>
</g>
<text x="1299.8" y="2293.4" font-size="116" class="dj">χ</text>
<text transform="translate(118.4,1144) rotate(-90)" font-size="126" x="-3.5 62.9 98.8">df(<tspan x="142.7" font-size="108" class="dj">χ</tspan><tspan x="209">)</tspan></text>
<line x1="157" y1="897.5" x2="157" y2="1149" stroke="#000" stroke-width="5.5"/>
<text transform="translate(278.6,1081.9) rotate(-90)" font-size="124" x="-7.1">d<tspan x="62.2" font-size="107" class="dj">χ</tspan></text>
</svg></body></html>
